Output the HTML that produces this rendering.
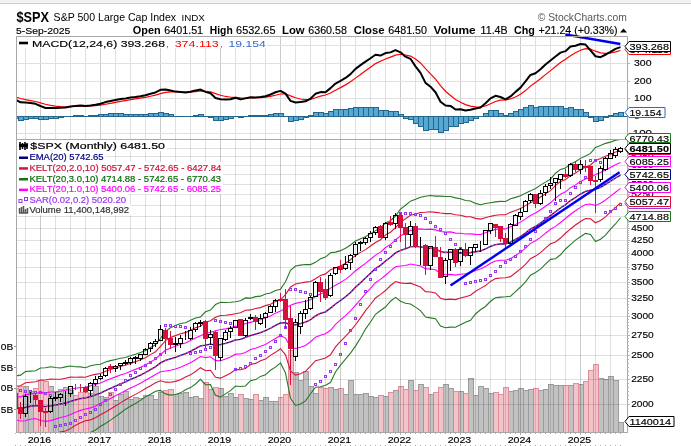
<!DOCTYPE html><html><head><meta charset="utf-8"><style>html,body{margin:0;padding:0;background:#fff;width:691px;height:446px;overflow:hidden}</style></head><body><svg width="691" height="446" viewBox="0 0 691 446" style="display:block;font-family:'Liberation Sans', sans-serif;will-change:transform">
<rect width="691" height="446" fill="#fff"/>
<rect x="0" y="0" width="691" height="2" fill="#eef2f5"/>
<rect x="0" y="2" width="691" height="1" fill="#f4f6f8"/>
<rect x="0" y="3" width="691" height="1" fill="#c0ced8"/>
<text x="16.5" y="21.8" font-size="14.6" font-weight="bold" fill="#000" text-anchor="start" textLength="32.6" lengthAdjust="spacingAndGlyphs">$SPX</text>
<text x="53.6" y="20.8" font-size="11" font-weight="normal" fill="#000" text-anchor="start" textLength="122.5" lengthAdjust="spacingAndGlyphs">S&amp;P 500 Large Cap Index</text>
<text x="181.5" y="20.9" font-size="8.3" font-weight="normal" fill="#000" text-anchor="start" textLength="23.4" lengthAdjust="spacingAndGlyphs">INDX</text>
<text x="537.7" y="20.9" font-size="10.5" font-weight="normal" fill="#555" text-anchor="start" textLength="89.1" lengthAdjust="spacingAndGlyphs">© StockCharts.com</text>
<text x="16.0" y="33.5" font-size="9.3" font-weight="normal" fill="#000" text-anchor="start" textLength="54.3" lengthAdjust="spacingAndGlyphs" stroke="#000" stroke-width="0.15">5-Sep-2025</text>
<text x="132.8" y="33.8" font-size="10.3" font-weight="bold" fill="#000" text-anchor="start" textLength="27.8" lengthAdjust="spacingAndGlyphs">Open</text>
<text x="164.3" y="33.8" font-size="10.2" font-weight="normal" fill="#000" text-anchor="start" textLength="38.8" lengthAdjust="spacingAndGlyphs" stroke="#000" stroke-width="0.15">6401.51</text>
<text x="209.8" y="33.8" font-size="10.3" font-weight="bold" fill="#000" text-anchor="start" textLength="22.9" lengthAdjust="spacingAndGlyphs">High</text>
<text x="236.1" y="33.8" font-size="10.2" font-weight="normal" fill="#000" text-anchor="start" textLength="39.4" lengthAdjust="spacingAndGlyphs" stroke="#000" stroke-width="0.15">6532.65</text>
<text x="282.0" y="33.8" font-size="10.3" font-weight="bold" fill="#000" text-anchor="start" textLength="22.6" lengthAdjust="spacingAndGlyphs">Low</text>
<text x="308.3" y="33.8" font-size="10.2" font-weight="normal" fill="#000" text-anchor="start" textLength="38.6" lengthAdjust="spacingAndGlyphs" stroke="#000" stroke-width="0.15">6360.58</text>
<text x="353.8" y="33.8" font-size="10.3" font-weight="bold" fill="#000" text-anchor="start" textLength="30.8" lengthAdjust="spacingAndGlyphs">Close</text>
<text x="388.2" y="33.8" font-size="10.2" font-weight="normal" fill="#000" text-anchor="start" textLength="38.9" lengthAdjust="spacingAndGlyphs" stroke="#000" stroke-width="0.15">6481.50</text>
<text x="433.5" y="33.8" font-size="10.3" font-weight="bold" fill="#000" text-anchor="start" textLength="42.2" lengthAdjust="spacingAndGlyphs">Volume</text>
<text x="480.6" y="33.8" font-size="10.2" font-weight="normal" fill="#000" text-anchor="start" textLength="27.0" lengthAdjust="spacingAndGlyphs" stroke="#000" stroke-width="0.15">11.4B</text>
<text x="513.9" y="33.8" font-size="10.3" font-weight="bold" fill="#000" text-anchor="start" textLength="20.9" lengthAdjust="spacingAndGlyphs">Chg</text>
<text x="538.5" y="33.8" font-size="10.2" font-weight="normal" fill="#000" text-anchor="start" textLength="79.1" lengthAdjust="spacingAndGlyphs" stroke="#000" stroke-width="0.15">+21.24 (+0.33%)</text>
<path d="M620 32.5 L623.5 28.5 L627 32.5 Z" fill="#000"/>
<line x1="25.5" y1="36.5" x2="25.5" y2="139.5" stroke="#000" stroke-opacity="0.12" stroke-width="1"/><line x1="40.5" y1="36.5" x2="40.5" y2="139.5" stroke="#000" stroke-opacity="0.2" stroke-width="1"/><line x1="55.5" y1="36.5" x2="55.5" y2="139.5" stroke="#000" stroke-opacity="0.12" stroke-width="1"/><line x1="70.5" y1="36.5" x2="70.5" y2="139.5" stroke="#000" stroke-opacity="0.12" stroke-width="1"/><line x1="85.5" y1="36.5" x2="85.5" y2="139.5" stroke="#000" stroke-opacity="0.12" stroke-width="1"/><line x1="100.5" y1="36.5" x2="100.5" y2="139.5" stroke="#000" stroke-opacity="0.2" stroke-width="1"/><line x1="115.5" y1="36.5" x2="115.5" y2="139.5" stroke="#000" stroke-opacity="0.12" stroke-width="1"/><line x1="130.5" y1="36.5" x2="130.5" y2="139.5" stroke="#000" stroke-opacity="0.12" stroke-width="1"/><line x1="145.5" y1="36.5" x2="145.5" y2="139.5" stroke="#000" stroke-opacity="0.12" stroke-width="1"/><line x1="160.5" y1="36.5" x2="160.5" y2="139.5" stroke="#000" stroke-opacity="0.2" stroke-width="1"/><line x1="175.5" y1="36.5" x2="175.5" y2="139.5" stroke="#000" stroke-opacity="0.12" stroke-width="1"/><line x1="190.5" y1="36.5" x2="190.5" y2="139.5" stroke="#000" stroke-opacity="0.12" stroke-width="1"/><line x1="205.5" y1="36.5" x2="205.5" y2="139.5" stroke="#000" stroke-opacity="0.12" stroke-width="1"/><line x1="220.5" y1="36.5" x2="220.5" y2="139.5" stroke="#000" stroke-opacity="0.2" stroke-width="1"/><line x1="235.5" y1="36.5" x2="235.5" y2="139.5" stroke="#000" stroke-opacity="0.12" stroke-width="1"/><line x1="250.5" y1="36.5" x2="250.5" y2="139.5" stroke="#000" stroke-opacity="0.12" stroke-width="1"/><line x1="265.5" y1="36.5" x2="265.5" y2="139.5" stroke="#000" stroke-opacity="0.12" stroke-width="1"/><line x1="280.5" y1="36.5" x2="280.5" y2="139.5" stroke="#000" stroke-opacity="0.2" stroke-width="1"/><line x1="295.5" y1="36.5" x2="295.5" y2="139.5" stroke="#000" stroke-opacity="0.12" stroke-width="1"/><line x1="310.5" y1="36.5" x2="310.5" y2="139.5" stroke="#000" stroke-opacity="0.12" stroke-width="1"/><line x1="325.5" y1="36.5" x2="325.5" y2="139.5" stroke="#000" stroke-opacity="0.12" stroke-width="1"/><line x1="340.5" y1="36.5" x2="340.5" y2="139.5" stroke="#000" stroke-opacity="0.2" stroke-width="1"/><line x1="355.5" y1="36.5" x2="355.5" y2="139.5" stroke="#000" stroke-opacity="0.12" stroke-width="1"/><line x1="370.5" y1="36.5" x2="370.5" y2="139.5" stroke="#000" stroke-opacity="0.12" stroke-width="1"/><line x1="385.5" y1="36.5" x2="385.5" y2="139.5" stroke="#000" stroke-opacity="0.12" stroke-width="1"/><line x1="400.5" y1="36.5" x2="400.5" y2="139.5" stroke="#000" stroke-opacity="0.2" stroke-width="1"/><line x1="415.5" y1="36.5" x2="415.5" y2="139.5" stroke="#000" stroke-opacity="0.12" stroke-width="1"/><line x1="430.5" y1="36.5" x2="430.5" y2="139.5" stroke="#000" stroke-opacity="0.12" stroke-width="1"/><line x1="445.5" y1="36.5" x2="445.5" y2="139.5" stroke="#000" stroke-opacity="0.12" stroke-width="1"/><line x1="460.5" y1="36.5" x2="460.5" y2="139.5" stroke="#000" stroke-opacity="0.2" stroke-width="1"/><line x1="475.5" y1="36.5" x2="475.5" y2="139.5" stroke="#000" stroke-opacity="0.12" stroke-width="1"/><line x1="490.5" y1="36.5" x2="490.5" y2="139.5" stroke="#000" stroke-opacity="0.12" stroke-width="1"/><line x1="505.5" y1="36.5" x2="505.5" y2="139.5" stroke="#000" stroke-opacity="0.12" stroke-width="1"/><line x1="520.5" y1="36.5" x2="520.5" y2="139.5" stroke="#000" stroke-opacity="0.2" stroke-width="1"/><line x1="535.5" y1="36.5" x2="535.5" y2="139.5" stroke="#000" stroke-opacity="0.12" stroke-width="1"/><line x1="550.5" y1="36.5" x2="550.5" y2="139.5" stroke="#000" stroke-opacity="0.12" stroke-width="1"/><line x1="565.5" y1="36.5" x2="565.5" y2="139.5" stroke="#000" stroke-opacity="0.12" stroke-width="1"/><line x1="580.5" y1="36.5" x2="580.5" y2="139.5" stroke="#000" stroke-opacity="0.2" stroke-width="1"/><line x1="595.5" y1="36.5" x2="595.5" y2="139.5" stroke="#000" stroke-opacity="0.12" stroke-width="1"/><line x1="610.5" y1="36.5" x2="610.5" y2="139.5" stroke="#000" stroke-opacity="0.12" stroke-width="1"/>
<line x1="16.5" y1="133.5" x2="627.5" y2="133.5" stroke="#e0e0e0" stroke-width="1"/>
<line x1="16.5" y1="116.5" x2="627.5" y2="116.5" stroke="#e0e0e0" stroke-width="1"/>
<line x1="16.5" y1="98.5" x2="627.5" y2="98.5" stroke="#e0e0e0" stroke-width="1"/>
<line x1="16.5" y1="81.5" x2="627.5" y2="81.5" stroke="#e0e0e0" stroke-width="1"/>
<line x1="16.5" y1="63.5" x2="627.5" y2="63.5" stroke="#e0e0e0" stroke-width="1"/>
<line x1="16.5" y1="45.5" x2="627.5" y2="45.5" stroke="#e0e0e0" stroke-width="1"/>
<clipPath id="cm"><rect x="16.5" y="36.5" width="611.0" height="103.0"/></clipPath>
<clipPath id="cp"><rect x="16.5" y="139.5" width="611.0" height="293.0"/></clipPath>
<g clip-path="url(#cm)" fill="#58a8d4" stroke="#23678c" stroke-width="1"><rect x="618.5" y="112.5" width="5" height="4.0"/><rect x="613.5" y="113.5" width="5" height="3.0"/><rect x="608.5" y="115.5" width="5" height="1.0"/><rect x="603.5" y="116.5" width="5" height="1.0"/><rect x="598.5" y="116.5" width="5" height="4.0"/><rect x="593.5" y="116.5" width="5" height="5.0"/><rect x="588.5" y="116.5" width="5" height="1.0"/><rect x="583.5" y="112.5" width="5" height="4.0"/><rect x="578.5" y="109.5" width="5" height="7.0"/><rect x="573.5" y="109.5" width="5" height="7.0"/><rect x="568.5" y="107.5" width="5" height="9.0"/><rect x="563.5" y="108.5" width="5" height="8.0"/><rect x="558.5" y="106.5" width="5" height="10.0"/><rect x="553.5" y="106.5" width="5" height="10.0"/><rect x="548.5" y="106.5" width="5" height="10.0"/><rect x="543.5" y="106.5" width="5" height="10.0"/><rect x="538.5" y="106.5" width="5" height="10.0"/><rect x="533.5" y="107.5" width="5" height="9.0"/><rect x="528.5" y="105.5" width="5" height="11.0"/><rect x="523.5" y="107.5" width="5" height="9.0"/><rect x="518.5" y="109.5" width="5" height="7.0"/><rect x="513.5" y="111.5" width="5" height="5.0"/><rect x="508.5" y="113.5" width="5" height="3.0"/><rect x="503.5" y="115.5" width="5" height="1.0"/><rect x="498.5" y="113.5" width="5" height="3.0"/><rect x="493.5" y="110.5" width="5" height="6.0"/><rect x="488.5" y="110.5" width="5" height="6.0"/><rect x="483.5" y="113.5" width="5" height="3.0"/><rect x="478.5" y="116.5" width="5" height="0.0"/><rect x="473.5" y="116.5" width="5" height="2.0"/><rect x="468.5" y="116.5" width="5" height="4.0"/><rect x="463.5" y="116.5" width="5" height="6.0"/><rect x="458.5" y="116.5" width="5" height="7.0"/><rect x="453.5" y="116.5" width="5" height="10.0"/><rect x="448.5" y="116.5" width="5" height="10.0"/><rect x="443.5" y="116.5" width="5" height="14.0"/><rect x="438.5" y="116.5" width="5" height="16.0"/><rect x="433.5" y="116.5" width="5" height="13.0"/><rect x="428.5" y="116.5" width="5" height="13.0"/><rect x="423.5" y="116.5" width="5" height="14.0"/><rect x="418.5" y="116.5" width="5" height="10.0"/><rect x="413.5" y="116.5" width="5" height="7.0"/><rect x="408.5" y="116.5" width="5" height="3.0"/><rect x="403.5" y="116.5" width="5" height="2.0"/><rect x="398.5" y="114.5" width="5" height="2.0"/><rect x="393.5" y="111.5" width="5" height="5.0"/><rect x="388.5" y="111.5" width="5" height="5.0"/><rect x="383.5" y="110.5" width="5" height="6.0"/><rect x="378.5" y="110.5" width="5" height="6.0"/><rect x="373.5" y="107.5" width="5" height="9.0"/><rect x="368.5" y="107.5" width="5" height="9.0"/><rect x="363.5" y="107.5" width="5" height="9.0"/><rect x="358.5" y="107.5" width="5" height="9.0"/><rect x="353.5" y="107.5" width="5" height="9.0"/><rect x="348.5" y="108.5" width="5" height="8.0"/><rect x="343.5" y="109.5" width="5" height="7.0"/><rect x="338.5" y="109.5" width="5" height="7.0"/><rect x="333.5" y="109.5" width="5" height="7.0"/><rect x="328.5" y="111.5" width="5" height="5.0"/><rect x="323.5" y="113.5" width="5" height="3.0"/><rect x="318.5" y="112.5" width="5" height="4.0"/><rect x="313.5" y="112.5" width="5" height="4.0"/><rect x="308.5" y="115.5" width="5" height="1.0"/><rect x="303.5" y="116.5" width="5" height="1.0"/><rect x="298.5" y="116.5" width="5" height="3.0"/><rect x="293.5" y="116.5" width="5" height="4.0"/><rect x="288.5" y="116.5" width="5" height="5.0"/><rect x="283.5" y="116.5" width="5" height="0.0"/><rect x="278.5" y="113.5" width="5" height="3.0"/><rect x="273.5" y="113.5" width="5" height="3.0"/><rect x="268.5" y="114.5" width="5" height="2.0"/><rect x="263.5" y="115.5" width="5" height="1.0"/><rect x="258.5" y="115.5" width="5" height="1.0"/><rect x="253.5" y="115.5" width="5" height="1.0"/><rect x="248.5" y="115.5" width="5" height="1.0"/><rect x="243.5" y="116.5" width="5" height="0.0"/><rect x="238.5" y="116.5" width="5" height="1.0"/><rect x="233.5" y="116.5" width="5" height="0.0"/><rect x="228.5" y="116.5" width="5" height="2.0"/><rect x="223.5" y="116.5" width="5" height="3.0"/><rect x="218.5" y="116.5" width="5" height="4.0"/><rect x="213.5" y="116.5" width="5" height="4.0"/><rect x="208.5" y="116.5" width="5" height="1.0"/><rect x="203.5" y="116.5" width="5" height="0.0"/><rect x="198.5" y="114.5" width="5" height="2.0"/><rect x="193.5" y="115.5" width="5" height="1.0"/><rect x="188.5" y="116.5" width="5" height="0.0"/><rect x="183.5" y="116.5" width="5" height="0.0"/><rect x="178.5" y="116.5" width="5" height="0.0"/><rect x="173.5" y="116.5" width="5" height="0.0"/><rect x="168.5" y="114.5" width="5" height="2.0"/><rect x="163.5" y="113.5" width="5" height="3.0"/><rect x="158.5" y="112.5" width="5" height="4.0"/><rect x="153.5" y="113.5" width="5" height="3.0"/><rect x="148.5" y="113.5" width="5" height="3.0"/><rect x="143.5" y="114.5" width="5" height="2.0"/><rect x="138.5" y="114.5" width="5" height="2.0"/><rect x="133.5" y="114.5" width="5" height="2.0"/><rect x="128.5" y="114.5" width="5" height="2.0"/><rect x="123.5" y="114.5" width="5" height="2.0"/><rect x="118.5" y="113.5" width="5" height="3.0"/><rect x="113.5" y="113.5" width="5" height="3.0"/><rect x="108.5" y="113.5" width="5" height="3.0"/><rect x="103.5" y="114.5" width="5" height="2.0"/><rect x="98.5" y="114.5" width="5" height="2.0"/><rect x="93.5" y="115.5" width="5" height="1.0"/><rect x="88.5" y="115.5" width="5" height="1.0"/><rect x="83.5" y="116.5" width="5" height="0.0"/><rect x="78.5" y="115.5" width="5" height="1.0"/><rect x="73.5" y="115.5" width="5" height="1.0"/><rect x="68.5" y="116.5" width="5" height="0.0"/><rect x="63.5" y="116.5" width="5" height="0.0"/><rect x="58.5" y="116.5" width="5" height="1.0"/><rect x="53.5" y="116.5" width="5" height="2.0"/><rect x="48.5" y="116.5" width="5" height="2.0"/><rect x="43.5" y="116.5" width="5" height="3.0"/><rect x="38.5" y="116.5" width="5" height="3.0"/><rect x="33.5" y="116.5" width="5" height="2.0"/><rect x="28.5" y="116.5" width="5" height="2.0"/><rect x="23.5" y="116.5" width="5" height="3.0"/><rect x="18.5" y="116.5" width="5" height="4.0"/><rect x="13.5" y="116.5" width="5" height="2.0"/></g>
<line x1="16.5" y1="116.5" x2="627.5" y2="116.5" stroke="#23678c" stroke-width="1" clip-path="url(#cm)"/>
<polyline clip-path="url(#cm)" points="10.5,95.88 15.5,96.95 20.5,98.50 25.5,99.67 30.5,100.60 35.5,101.53 40.5,102.82 45.5,104.29 50.5,105.34 55.5,106.08 60.5,106.53 65.5,106.80 70.5,106.71 75.5,106.47 80.5,106.21 85.5,106.15 90.5,105.97 95.5,105.62 100.5,105.10 105.5,104.24 110.5,103.30 115.5,102.35 120.5,101.40 125.5,100.55 130.5,99.68 135.5,98.92 140.5,98.16 145.5,97.31 150.5,96.27 155.5,95.17 160.5,93.64 165.5,92.46 170.5,91.92 175.5,91.84 180.5,91.88 185.5,92.03 190.5,91.96 195.5,91.53 200.5,90.97 205.5,91.23 210.5,91.82 215.5,93.59 220.5,95.23 225.5,96.46 230.5,97.26 235.5,97.40 240.5,97.97 245.5,98.09 250.5,97.86 255.5,97.73 260.5,97.55 265.5,97.18 270.5,96.42 275.5,95.23 280.5,93.99 285.5,93.89 290.5,95.89 295.5,97.76 300.5,99.00 305.5,99.66 310.5,99.36 315.5,97.77 320.5,96.15 325.5,95.04 330.5,93.07 335.5,90.34 340.5,87.63 345.5,84.87 350.5,81.80 355.5,78.11 360.5,74.40 365.5,70.75 370.5,67.19 375.5,63.63 380.5,61.32 385.5,58.96 390.5,57.07 395.5,55.07 400.5,54.28 405.5,54.97 410.5,56.07 415.5,59.01 420.5,62.96 425.5,68.66 430.5,73.82 435.5,79.09 440.5,85.56 445.5,91.27 450.5,95.45 455.5,99.46 460.5,102.26 465.5,104.63 470.5,106.12 475.5,106.81 480.5,107.02 485.5,105.96 490.5,103.80 495.5,101.53 500.5,100.22 505.5,99.96 510.5,98.96 515.5,96.94 520.5,94.28 525.5,90.60 530.5,86.12 535.5,82.45 540.5,78.70 545.5,74.64 550.5,70.61 555.5,66.58 560.5,62.60 565.5,59.32 570.5,55.67 575.5,52.84 580.5,50.30 585.5,48.66 590.5,49.16 595.5,51.19 600.5,52.89 605.5,53.42 610.5,52.98 615.5,51.80 620.5,50.46" fill="none" stroke="#ff0000" stroke-width="1.2"/>
<polyline clip-path="url(#cm)" points="10.5,97.24 15.5,99.63 20.5,102.37 25.5,102.60 30.5,102.94 35.5,103.84 40.5,106.04 45.5,107.99 50.5,107.94 55.5,107.94 60.5,107.63 65.5,107.47 70.5,106.49 75.5,105.88 80.5,105.56 85.5,106.00 90.5,105.52 95.5,104.76 100.5,103.79 105.5,102.08 110.5,100.95 115.5,99.97 120.5,99.05 125.5,98.40 130.5,97.50 135.5,97.02 140.5,96.26 145.5,95.18 150.5,93.67 155.5,92.43 160.5,89.81 165.5,89.52 170.5,90.58 175.5,91.62 180.5,92.00 185.5,92.41 190.5,91.76 195.5,90.45 200.5,89.58 205.5,91.87 210.5,93.31 215.5,98.02 220.5,99.34 225.5,99.53 230.5,99.24 235.5,97.78 240.5,99.38 245.5,98.37 250.5,97.31 255.5,97.41 260.5,97.07 265.5,96.26 270.5,94.52 275.5,92.27 280.5,90.89 285.5,93.65 290.5,100.88 295.5,102.43 300.5,102.10 305.5,101.29 310.5,98.63 315.5,93.79 320.5,92.09 325.5,92.27 330.5,88.13 335.5,83.52 340.5,80.87 345.5,77.98 350.5,74.11 355.5,68.90 360.5,65.13 365.5,61.62 370.5,58.28 375.5,54.74 380.5,55.54 385.5,53.04 390.5,52.37 395.5,50.05 400.5,52.31 405.5,56.70 410.5,58.82 415.5,66.36 420.5,72.84 425.5,82.92 430.5,86.70 435.5,92.28 440.5,101.73 445.5,105.53 450.5,105.93 455.5,109.49 460.5,109.26 465.5,110.56 470.5,109.82 475.5,108.55 480.5,107.53 485.5,103.32 490.5,98.40 495.5,95.85 500.5,96.97 505.5,99.30 510.5,96.47 515.5,91.88 520.5,87.62 525.5,81.40 530.5,74.94 535.5,73.26 540.5,69.33 545.5,64.48 550.5,60.54 555.5,56.51 560.5,52.64 565.5,51.14 570.5,46.53 575.5,45.76 580.5,43.96 585.5,44.57 590.5,50.38 595.5,56.27 600.5,57.14 605.5,54.74 610.5,51.88 615.5,48.87 620.5,47.08" fill="none" stroke="#000" stroke-width="2.0" stroke-linejoin="round"/>
<g clip-path="url(#cp)"><rect x="618.5" y="422.5" width="5" height="10.0" fill="#c2c2c2" stroke="#9c9c9c" stroke-width="1"/><rect x="613.5" y="380.5" width="5" height="52.0" fill="#c2c2c2" stroke="#9c9c9c" stroke-width="1"/><rect x="608.5" y="376.5" width="5" height="56.0" fill="#c2c2c2" stroke="#9c9c9c" stroke-width="1"/><rect x="603.5" y="379.5" width="5" height="53.0" fill="#c2c2c2" stroke="#9c9c9c" stroke-width="1"/><rect x="598.5" y="378.5" width="5" height="54.0" fill="#c2c2c2" stroke="#9c9c9c" stroke-width="1"/><rect x="593.5" y="364.5" width="5" height="68.0" fill="#f2c4ca" stroke="#dd8f9a" stroke-width="1"/><rect x="588.5" y="370.5" width="5" height="62.0" fill="#f2c4ca" stroke="#dd8f9a" stroke-width="1"/><rect x="583.5" y="381.5" width="5" height="51.0" fill="#f2c4ca" stroke="#dd8f9a" stroke-width="1"/><rect x="578.5" y="384.5" width="5" height="48.0" fill="#c2c2c2" stroke="#9c9c9c" stroke-width="1"/><rect x="573.5" y="383.5" width="5" height="49.0" fill="#f2c4ca" stroke="#dd8f9a" stroke-width="1"/><rect x="568.5" y="385.5" width="5" height="47.0" fill="#c2c2c2" stroke="#9c9c9c" stroke-width="1"/><rect x="563.5" y="385.5" width="5" height="47.0" fill="#f2c4ca" stroke="#dd8f9a" stroke-width="1"/><rect x="558.5" y="385.5" width="5" height="47.0" fill="#c2c2c2" stroke="#9c9c9c" stroke-width="1"/><rect x="553.5" y="385.5" width="5" height="47.0" fill="#c2c2c2" stroke="#9c9c9c" stroke-width="1"/><rect x="548.5" y="384.5" width="5" height="48.0" fill="#c2c2c2" stroke="#9c9c9c" stroke-width="1"/><rect x="543.5" y="389.5" width="5" height="43.0" fill="#c2c2c2" stroke="#9c9c9c" stroke-width="1"/><rect x="538.5" y="390.5" width="5" height="42.0" fill="#c2c2c2" stroke="#9c9c9c" stroke-width="1"/><rect x="533.5" y="388.5" width="5" height="44.0" fill="#f2c4ca" stroke="#dd8f9a" stroke-width="1"/><rect x="528.5" y="389.5" width="5" height="43.0" fill="#c2c2c2" stroke="#9c9c9c" stroke-width="1"/><rect x="523.5" y="390.5" width="5" height="42.0" fill="#c2c2c2" stroke="#9c9c9c" stroke-width="1"/><rect x="518.5" y="388.5" width="5" height="44.0" fill="#c2c2c2" stroke="#9c9c9c" stroke-width="1"/><rect x="513.5" y="390.5" width="5" height="42.0" fill="#c2c2c2" stroke="#9c9c9c" stroke-width="1"/><rect x="508.5" y="391.5" width="5" height="41.0" fill="#c2c2c2" stroke="#9c9c9c" stroke-width="1"/><rect x="503.5" y="387.5" width="5" height="45.0" fill="#f2c4ca" stroke="#dd8f9a" stroke-width="1"/><rect x="498.5" y="394.5" width="5" height="38.0" fill="#f2c4ca" stroke="#dd8f9a" stroke-width="1"/><rect x="493.5" y="392.5" width="5" height="40.0" fill="#f2c4ca" stroke="#dd8f9a" stroke-width="1"/><rect x="488.5" y="393.5" width="5" height="39.0" fill="#c2c2c2" stroke="#9c9c9c" stroke-width="1"/><rect x="483.5" y="388.5" width="5" height="44.0" fill="#c2c2c2" stroke="#9c9c9c" stroke-width="1"/><rect x="478.5" y="386.5" width="5" height="46.0" fill="#c2c2c2" stroke="#9c9c9c" stroke-width="1"/><rect x="473.5" y="395.5" width="5" height="37.0" fill="#c2c2c2" stroke="#9c9c9c" stroke-width="1"/><rect x="468.5" y="378.5" width="5" height="54.0" fill="#c2c2c2" stroke="#9c9c9c" stroke-width="1"/><rect x="463.5" y="393.5" width="5" height="39.0" fill="#f2c4ca" stroke="#dd8f9a" stroke-width="1"/><rect x="458.5" y="391.5" width="5" height="41.0" fill="#c2c2c2" stroke="#9c9c9c" stroke-width="1"/><rect x="453.5" y="391.5" width="5" height="41.0" fill="#f2c4ca" stroke="#dd8f9a" stroke-width="1"/><rect x="448.5" y="388.5" width="5" height="44.0" fill="#c2c2c2" stroke="#9c9c9c" stroke-width="1"/><rect x="443.5" y="384.5" width="5" height="48.0" fill="#c2c2c2" stroke="#9c9c9c" stroke-width="1"/><rect x="438.5" y="387.5" width="5" height="45.0" fill="#f2c4ca" stroke="#dd8f9a" stroke-width="1"/><rect x="433.5" y="392.5" width="5" height="40.0" fill="#f2c4ca" stroke="#dd8f9a" stroke-width="1"/><rect x="428.5" y="394.5" width="5" height="38.0" fill="#c2c2c2" stroke="#9c9c9c" stroke-width="1"/><rect x="423.5" y="387.5" width="5" height="45.0" fill="#f2c4ca" stroke="#dd8f9a" stroke-width="1"/><rect x="418.5" y="384.5" width="5" height="48.0" fill="#c2c2c2" stroke="#9c9c9c" stroke-width="1"/><rect x="413.5" y="390.5" width="5" height="42.0" fill="#f2c4ca" stroke="#dd8f9a" stroke-width="1"/><rect x="408.5" y="380.5" width="5" height="52.0" fill="#c2c2c2" stroke="#9c9c9c" stroke-width="1"/><rect x="403.5" y="389.5" width="5" height="43.0" fill="#f2c4ca" stroke="#dd8f9a" stroke-width="1"/><rect x="398.5" y="386.5" width="5" height="46.0" fill="#f2c4ca" stroke="#dd8f9a" stroke-width="1"/><rect x="393.5" y="390.5" width="5" height="42.0" fill="#c2c2c2" stroke="#9c9c9c" stroke-width="1"/><rect x="388.5" y="392.5" width="5" height="40.0" fill="#f2c4ca" stroke="#dd8f9a" stroke-width="1"/><rect x="383.5" y="396.5" width="5" height="36.0" fill="#c2c2c2" stroke="#9c9c9c" stroke-width="1"/><rect x="378.5" y="395.5" width="5" height="37.0" fill="#f2c4ca" stroke="#dd8f9a" stroke-width="1"/><rect x="373.5" y="397.5" width="5" height="35.0" fill="#c2c2c2" stroke="#9c9c9c" stroke-width="1"/><rect x="368.5" y="396.5" width="5" height="36.0" fill="#c2c2c2" stroke="#9c9c9c" stroke-width="1"/><rect x="363.5" y="393.5" width="5" height="39.0" fill="#c2c2c2" stroke="#9c9c9c" stroke-width="1"/><rect x="358.5" y="394.5" width="5" height="38.0" fill="#c2c2c2" stroke="#9c9c9c" stroke-width="1"/><rect x="353.5" y="394.5" width="5" height="38.0" fill="#c2c2c2" stroke="#9c9c9c" stroke-width="1"/><rect x="348.5" y="380.5" width="5" height="52.0" fill="#c2c2c2" stroke="#9c9c9c" stroke-width="1"/><rect x="343.5" y="394.5" width="5" height="38.0" fill="#c2c2c2" stroke="#9c9c9c" stroke-width="1"/><rect x="338.5" y="388.5" width="5" height="44.0" fill="#f2c4ca" stroke="#dd8f9a" stroke-width="1"/><rect x="333.5" y="389.5" width="5" height="43.0" fill="#c2c2c2" stroke="#9c9c9c" stroke-width="1"/><rect x="328.5" y="387.5" width="5" height="45.0" fill="#c2c2c2" stroke="#9c9c9c" stroke-width="1"/><rect x="323.5" y="388.5" width="5" height="44.0" fill="#f2c4ca" stroke="#dd8f9a" stroke-width="1"/><rect x="318.5" y="387.5" width="5" height="45.0" fill="#f2c4ca" stroke="#dd8f9a" stroke-width="1"/><rect x="313.5" y="393.5" width="5" height="39.0" fill="#c2c2c2" stroke="#9c9c9c" stroke-width="1"/><rect x="308.5" y="386.5" width="5" height="46.0" fill="#c2c2c2" stroke="#9c9c9c" stroke-width="1"/><rect x="303.5" y="371.5" width="5" height="61.0" fill="#c2c2c2" stroke="#9c9c9c" stroke-width="1"/><rect x="298.5" y="380.5" width="5" height="52.0" fill="#c2c2c2" stroke="#9c9c9c" stroke-width="1"/><rect x="293.5" y="372.5" width="5" height="60.0" fill="#c2c2c2" stroke="#9c9c9c" stroke-width="1"/><rect x="288.5" y="350.5" width="5" height="82.0" fill="#f2c4ca" stroke="#dd8f9a" stroke-width="1"/><rect x="283.5" y="394.5" width="5" height="38.0" fill="#f2c4ca" stroke="#dd8f9a" stroke-width="1"/><rect x="278.5" y="397.5" width="5" height="35.0" fill="#f2c4ca" stroke="#dd8f9a" stroke-width="1"/><rect x="273.5" y="401.5" width="5" height="31.0" fill="#c2c2c2" stroke="#9c9c9c" stroke-width="1"/><rect x="268.5" y="401.5" width="5" height="31.0" fill="#c2c2c2" stroke="#9c9c9c" stroke-width="1"/><rect x="263.5" y="397.5" width="5" height="35.0" fill="#c2c2c2" stroke="#9c9c9c" stroke-width="1"/><rect x="258.5" y="400.5" width="5" height="32.0" fill="#c2c2c2" stroke="#9c9c9c" stroke-width="1"/><rect x="253.5" y="394.5" width="5" height="38.0" fill="#f2c4ca" stroke="#dd8f9a" stroke-width="1"/><rect x="248.5" y="399.5" width="5" height="33.0" fill="#c2c2c2" stroke="#9c9c9c" stroke-width="1"/><rect x="243.5" y="398.5" width="5" height="34.0" fill="#c2c2c2" stroke="#9c9c9c" stroke-width="1"/><rect x="238.5" y="394.5" width="5" height="38.0" fill="#f2c4ca" stroke="#dd8f9a" stroke-width="1"/><rect x="233.5" y="397.5" width="5" height="35.0" fill="#c2c2c2" stroke="#9c9c9c" stroke-width="1"/><rect x="228.5" y="393.5" width="5" height="39.0" fill="#c2c2c2" stroke="#9c9c9c" stroke-width="1"/><rect x="223.5" y="396.5" width="5" height="36.0" fill="#c2c2c2" stroke="#9c9c9c" stroke-width="1"/><rect x="218.5" y="388.5" width="5" height="44.0" fill="#c2c2c2" stroke="#9c9c9c" stroke-width="1"/><rect x="213.5" y="387.5" width="5" height="45.0" fill="#f2c4ca" stroke="#dd8f9a" stroke-width="1"/><rect x="208.5" y="389.5" width="5" height="43.0" fill="#c2c2c2" stroke="#9c9c9c" stroke-width="1"/><rect x="203.5" y="382.5" width="5" height="50.0" fill="#f2c4ca" stroke="#dd8f9a" stroke-width="1"/><rect x="198.5" y="398.5" width="5" height="34.0" fill="#c2c2c2" stroke="#9c9c9c" stroke-width="1"/><rect x="193.5" y="396.5" width="5" height="36.0" fill="#c2c2c2" stroke="#9c9c9c" stroke-width="1"/><rect x="188.5" y="397.5" width="5" height="35.0" fill="#c2c2c2" stroke="#9c9c9c" stroke-width="1"/><rect x="183.5" y="392.5" width="5" height="40.0" fill="#c2c2c2" stroke="#9c9c9c" stroke-width="1"/><rect x="178.5" y="393.5" width="5" height="39.0" fill="#c2c2c2" stroke="#9c9c9c" stroke-width="1"/><rect x="173.5" y="394.5" width="5" height="38.0" fill="#c2c2c2" stroke="#9c9c9c" stroke-width="1"/><rect x="168.5" y="389.5" width="5" height="43.0" fill="#f2c4ca" stroke="#dd8f9a" stroke-width="1"/><rect x="163.5" y="390.5" width="5" height="42.0" fill="#f2c4ca" stroke="#dd8f9a" stroke-width="1"/><rect x="158.5" y="392.5" width="5" height="40.0" fill="#c2c2c2" stroke="#9c9c9c" stroke-width="1"/><rect x="153.5" y="399.5" width="5" height="33.0" fill="#c2c2c2" stroke="#9c9c9c" stroke-width="1"/><rect x="148.5" y="395.5" width="5" height="37.0" fill="#c2c2c2" stroke="#9c9c9c" stroke-width="1"/><rect x="143.5" y="395.5" width="5" height="37.0" fill="#c2c2c2" stroke="#9c9c9c" stroke-width="1"/><rect x="138.5" y="398.5" width="5" height="34.0" fill="#c2c2c2" stroke="#9c9c9c" stroke-width="1"/><rect x="133.5" y="397.5" width="5" height="35.0" fill="#c2c2c2" stroke="#9c9c9c" stroke-width="1"/><rect x="128.5" y="399.5" width="5" height="33.0" fill="#c2c2c2" stroke="#9c9c9c" stroke-width="1"/><rect x="123.5" y="391.5" width="5" height="41.0" fill="#c2c2c2" stroke="#9c9c9c" stroke-width="1"/><rect x="118.5" y="394.5" width="5" height="38.0" fill="#c2c2c2" stroke="#9c9c9c" stroke-width="1"/><rect x="113.5" y="400.5" width="5" height="32.0" fill="#c2c2c2" stroke="#9c9c9c" stroke-width="1"/><rect x="108.5" y="392.5" width="5" height="40.0" fill="#f2c4ca" stroke="#dd8f9a" stroke-width="1"/><rect x="103.5" y="397.5" width="5" height="35.0" fill="#c2c2c2" stroke="#9c9c9c" stroke-width="1"/><rect x="98.5" y="396.5" width="5" height="36.0" fill="#c2c2c2" stroke="#9c9c9c" stroke-width="1"/><rect x="93.5" y="386.5" width="5" height="46.0" fill="#c2c2c2" stroke="#9c9c9c" stroke-width="1"/><rect x="88.5" y="393.5" width="5" height="39.0" fill="#c2c2c2" stroke="#9c9c9c" stroke-width="1"/><rect x="83.5" y="392.5" width="5" height="40.0" fill="#f2c4ca" stroke="#dd8f9a" stroke-width="1"/><rect x="78.5" y="392.5" width="5" height="40.0" fill="#f2c4ca" stroke="#dd8f9a" stroke-width="1"/><rect x="73.5" y="395.5" width="5" height="37.0" fill="#f2c4ca" stroke="#dd8f9a" stroke-width="1"/><rect x="68.5" y="390.5" width="5" height="42.0" fill="#c2c2c2" stroke="#9c9c9c" stroke-width="1"/><rect x="63.5" y="387.5" width="5" height="45.0" fill="#c2c2c2" stroke="#9c9c9c" stroke-width="1"/><rect x="58.5" y="389.5" width="5" height="43.0" fill="#c2c2c2" stroke="#9c9c9c" stroke-width="1"/><rect x="53.5" y="392.5" width="5" height="40.0" fill="#c2c2c2" stroke="#9c9c9c" stroke-width="1"/><rect x="48.5" y="386.5" width="5" height="46.0" fill="#c2c2c2" stroke="#9c9c9c" stroke-width="1"/><rect x="43.5" y="381.5" width="5" height="51.0" fill="#f2c4ca" stroke="#dd8f9a" stroke-width="1"/><rect x="38.5" y="380.5" width="5" height="52.0" fill="#f2c4ca" stroke="#dd8f9a" stroke-width="1"/><rect x="33.5" y="388.5" width="5" height="44.0" fill="#f2c4ca" stroke="#dd8f9a" stroke-width="1"/><rect x="28.5" y="391.5" width="5" height="41.0" fill="#c2c2c2" stroke="#9c9c9c" stroke-width="1"/><rect x="23.5" y="386.5" width="5" height="46.0" fill="#c2c2c2" stroke="#9c9c9c" stroke-width="1"/><rect x="18.5" y="386.5" width="5" height="46.0" fill="#f2c4ca" stroke="#dd8f9a" stroke-width="1"/><rect x="13.5" y="388.5" width="5" height="44.0" fill="#f2c4ca" stroke="#dd8f9a" stroke-width="1"/></g>
<line x1="25.5" y1="139.5" x2="25.5" y2="432.5" stroke="#000" stroke-opacity="0.12" stroke-width="1"/><line x1="40.5" y1="139.5" x2="40.5" y2="432.5" stroke="#000" stroke-opacity="0.2" stroke-width="1"/><line x1="55.5" y1="139.5" x2="55.5" y2="432.5" stroke="#000" stroke-opacity="0.12" stroke-width="1"/><line x1="70.5" y1="139.5" x2="70.5" y2="432.5" stroke="#000" stroke-opacity="0.12" stroke-width="1"/><line x1="85.5" y1="139.5" x2="85.5" y2="432.5" stroke="#000" stroke-opacity="0.12" stroke-width="1"/><line x1="100.5" y1="139.5" x2="100.5" y2="432.5" stroke="#000" stroke-opacity="0.2" stroke-width="1"/><line x1="115.5" y1="139.5" x2="115.5" y2="432.5" stroke="#000" stroke-opacity="0.12" stroke-width="1"/><line x1="130.5" y1="139.5" x2="130.5" y2="432.5" stroke="#000" stroke-opacity="0.12" stroke-width="1"/><line x1="145.5" y1="139.5" x2="145.5" y2="432.5" stroke="#000" stroke-opacity="0.12" stroke-width="1"/><line x1="160.5" y1="139.5" x2="160.5" y2="432.5" stroke="#000" stroke-opacity="0.2" stroke-width="1"/><line x1="175.5" y1="139.5" x2="175.5" y2="432.5" stroke="#000" stroke-opacity="0.12" stroke-width="1"/><line x1="190.5" y1="139.5" x2="190.5" y2="432.5" stroke="#000" stroke-opacity="0.12" stroke-width="1"/><line x1="205.5" y1="139.5" x2="205.5" y2="432.5" stroke="#000" stroke-opacity="0.12" stroke-width="1"/><line x1="220.5" y1="139.5" x2="220.5" y2="432.5" stroke="#000" stroke-opacity="0.2" stroke-width="1"/><line x1="235.5" y1="139.5" x2="235.5" y2="432.5" stroke="#000" stroke-opacity="0.12" stroke-width="1"/><line x1="250.5" y1="139.5" x2="250.5" y2="432.5" stroke="#000" stroke-opacity="0.12" stroke-width="1"/><line x1="265.5" y1="139.5" x2="265.5" y2="432.5" stroke="#000" stroke-opacity="0.12" stroke-width="1"/><line x1="280.5" y1="139.5" x2="280.5" y2="432.5" stroke="#000" stroke-opacity="0.2" stroke-width="1"/><line x1="295.5" y1="139.5" x2="295.5" y2="432.5" stroke="#000" stroke-opacity="0.12" stroke-width="1"/><line x1="310.5" y1="139.5" x2="310.5" y2="432.5" stroke="#000" stroke-opacity="0.12" stroke-width="1"/><line x1="325.5" y1="139.5" x2="325.5" y2="432.5" stroke="#000" stroke-opacity="0.12" stroke-width="1"/><line x1="340.5" y1="139.5" x2="340.5" y2="432.5" stroke="#000" stroke-opacity="0.2" stroke-width="1"/><line x1="355.5" y1="139.5" x2="355.5" y2="432.5" stroke="#000" stroke-opacity="0.12" stroke-width="1"/><line x1="370.5" y1="139.5" x2="370.5" y2="432.5" stroke="#000" stroke-opacity="0.12" stroke-width="1"/><line x1="385.5" y1="139.5" x2="385.5" y2="432.5" stroke="#000" stroke-opacity="0.12" stroke-width="1"/><line x1="400.5" y1="139.5" x2="400.5" y2="432.5" stroke="#000" stroke-opacity="0.2" stroke-width="1"/><line x1="415.5" y1="139.5" x2="415.5" y2="432.5" stroke="#000" stroke-opacity="0.12" stroke-width="1"/><line x1="430.5" y1="139.5" x2="430.5" y2="432.5" stroke="#000" stroke-opacity="0.12" stroke-width="1"/><line x1="445.5" y1="139.5" x2="445.5" y2="432.5" stroke="#000" stroke-opacity="0.12" stroke-width="1"/><line x1="460.5" y1="139.5" x2="460.5" y2="432.5" stroke="#000" stroke-opacity="0.2" stroke-width="1"/><line x1="475.5" y1="139.5" x2="475.5" y2="432.5" stroke="#000" stroke-opacity="0.12" stroke-width="1"/><line x1="490.5" y1="139.5" x2="490.5" y2="432.5" stroke="#000" stroke-opacity="0.12" stroke-width="1"/><line x1="505.5" y1="139.5" x2="505.5" y2="432.5" stroke="#000" stroke-opacity="0.12" stroke-width="1"/><line x1="520.5" y1="139.5" x2="520.5" y2="432.5" stroke="#000" stroke-opacity="0.2" stroke-width="1"/><line x1="535.5" y1="139.5" x2="535.5" y2="432.5" stroke="#000" stroke-opacity="0.12" stroke-width="1"/><line x1="550.5" y1="139.5" x2="550.5" y2="432.5" stroke="#000" stroke-opacity="0.12" stroke-width="1"/><line x1="565.5" y1="139.5" x2="565.5" y2="432.5" stroke="#000" stroke-opacity="0.12" stroke-width="1"/><line x1="580.5" y1="139.5" x2="580.5" y2="432.5" stroke="#000" stroke-opacity="0.2" stroke-width="1"/><line x1="595.5" y1="139.5" x2="595.5" y2="432.5" stroke="#000" stroke-opacity="0.12" stroke-width="1"/><line x1="610.5" y1="139.5" x2="610.5" y2="432.5" stroke="#000" stroke-opacity="0.12" stroke-width="1"/>
<line x1="16.5" y1="404.5" x2="627.5" y2="404.5" stroke="#000" stroke-opacity="0.12" stroke-width="1"/>
<line x1="16.5" y1="379.5" x2="627.5" y2="379.5" stroke="#000" stroke-opacity="0.12" stroke-width="1"/>
<line x1="16.5" y1="355.5" x2="627.5" y2="355.5" stroke="#000" stroke-opacity="0.12" stroke-width="1"/>
<line x1="16.5" y1="335.5" x2="627.5" y2="335.5" stroke="#000" stroke-opacity="0.12" stroke-width="1"/>
<line x1="16.5" y1="316.5" x2="627.5" y2="316.5" stroke="#000" stroke-opacity="0.12" stroke-width="1"/>
<line x1="16.5" y1="298.5" x2="627.5" y2="298.5" stroke="#000" stroke-opacity="0.12" stroke-width="1"/>
<line x1="16.5" y1="282.5" x2="627.5" y2="282.5" stroke="#000" stroke-opacity="0.12" stroke-width="1"/>
<line x1="16.5" y1="267.5" x2="627.5" y2="267.5" stroke="#000" stroke-opacity="0.12" stroke-width="1"/>
<line x1="16.5" y1="253.5" x2="627.5" y2="253.5" stroke="#000" stroke-opacity="0.12" stroke-width="1"/>
<line x1="16.5" y1="240.5" x2="627.5" y2="240.5" stroke="#000" stroke-opacity="0.12" stroke-width="1"/>
<line x1="16.5" y1="228.5" x2="627.5" y2="228.5" stroke="#000" stroke-opacity="0.12" stroke-width="1"/>
<line x1="16.5" y1="216.5" x2="627.5" y2="216.5" stroke="#000" stroke-opacity="0.12" stroke-width="1"/>
<line x1="16.5" y1="205.5" x2="627.5" y2="205.5" stroke="#000" stroke-opacity="0.12" stroke-width="1"/>
<line x1="16.5" y1="194.5" x2="627.5" y2="194.5" stroke="#000" stroke-opacity="0.12" stroke-width="1"/>
<line x1="16.5" y1="184.5" x2="627.5" y2="184.5" stroke="#000" stroke-opacity="0.12" stroke-width="1"/>
<line x1="16.5" y1="174.5" x2="627.5" y2="174.5" stroke="#000" stroke-opacity="0.12" stroke-width="1"/>
<line x1="16.5" y1="165.5" x2="627.5" y2="165.5" stroke="#000" stroke-opacity="0.12" stroke-width="1"/>
<line x1="16.5" y1="156.5" x2="627.5" y2="156.5" stroke="#000" stroke-opacity="0.12" stroke-width="1"/>
<line x1="16.5" y1="148.5" x2="627.5" y2="148.5" stroke="#000" stroke-opacity="0.12" stroke-width="1"/>
<polyline clip-path="url(#cp)" points="10.5,380.59 15.5,376.00 20.5,375.15 25.5,371.51 30.5,371.15 35.5,370.75 40.5,367.96 45.5,367.71 50.5,366.71 55.5,367.50 60.5,367.93 65.5,366.88 70.5,365.99 75.5,366.76 80.5,366.86 85.5,367.69 90.5,365.73 95.5,364.72 100.5,364.23 105.5,362.03 110.5,360.64 115.5,359.45 120.5,358.23 125.5,357.51 130.5,355.72 135.5,354.17 140.5,352.41 145.5,350.61 150.5,347.49 155.5,344.77 160.5,338.51 165.5,331.40 170.5,327.69 175.5,325.54 180.5,323.57 185.5,322.78 190.5,320.27 195.5,318.07 200.5,316.96 205.5,311.75 210.5,310.04 215.5,304.57 220.5,302.32 225.5,302.50 230.5,302.21 235.5,301.69 240.5,300.67 245.5,297.90 250.5,298.16 255.5,296.62 260.5,296.14 265.5,294.06 270.5,293.07 275.5,290.43 280.5,289.16 285.5,281.82 290.5,270.26 295.5,266.04 300.5,265.10 305.5,264.55 310.5,264.62 315.5,262.35 320.5,258.77 325.5,257.12 330.5,252.83 335.5,252.15 340.5,250.63 345.5,248.31 350.5,245.04 355.5,241.06 360.5,238.66 365.5,236.71 370.5,233.61 375.5,230.64 380.5,227.96 385.5,222.94 390.5,220.70 395.5,216.02 400.5,209.17 405.5,205.26 410.5,201.17 415.5,199.27 420.5,197.22 425.5,196.23 430.5,195.50 435.5,196.14 440.5,196.13 445.5,196.51 450.5,196.43 455.5,197.89 460.5,198.72 465.5,200.51 470.5,200.93 475.5,203.39 480.5,204.78 485.5,203.54 490.5,202.71 495.5,201.88 500.5,201.39 505.5,201.50 510.5,198.76 515.5,197.36 520.5,195.76 525.5,193.13 530.5,190.87 535.5,188.44 540.5,185.11 545.5,182.15 550.5,179.20 555.5,173.23 560.5,169.42 565.5,167.99 570.5,163.92 575.5,161.76 580.5,158.37 585.5,156.10 590.5,153.44 595.5,147.36 600.5,145.50 605.5,143.36 610.5,142.14 615.5,140.12 620.5,139.42" fill="none" stroke="#267a26" stroke-width="1.1"/>
<polyline clip-path="url(#cp)" points="10.5,439.59 15.5,445.65 20.5,448.02 25.5,450.23 30.5,448.06 35.5,447.12 40.5,452.43 45.5,454.18 50.5,453.59 55.5,450.43 60.5,447.23 65.5,446.38 70.5,443.67 75.5,439.10 80.5,435.93 85.5,433.10 90.5,432.51 95.5,430.02 100.5,426.33 105.5,423.43 110.5,420.11 115.5,416.59 120.5,413.05 125.5,409.18 130.5,406.18 135.5,403.40 140.5,400.41 145.5,396.88 150.5,394.18 155.5,391.16 160.5,390.37 165.5,393.90 170.5,395.11 175.5,394.49 180.5,392.86 185.5,389.79 190.5,387.61 195.5,383.99 200.5,379.39 205.5,384.75 210.5,384.64 215.5,395.21 220.5,397.11 225.5,393.84 230.5,390.65 235.5,386.05 240.5,386.44 245.5,385.93 250.5,380.69 255.5,379.60 260.5,376.39 265.5,374.80 270.5,370.28 275.5,367.15 280.5,362.94 285.5,372.88 290.5,398.27 295.5,405.46 300.5,403.94 305.5,400.89 310.5,393.72 315.5,387.18 320.5,386.74 325.5,385.33 330.5,382.54 335.5,372.01 340.5,365.17 345.5,359.10 350.5,353.06 355.5,346.15 360.5,337.93 365.5,329.07 370.5,321.98 375.5,314.31 380.5,310.51 385.5,307.03 390.5,301.19 395.5,297.37 400.5,301.19 405.5,303.22 410.5,304.01 415.5,307.11 420.5,310.54 425.5,317.00 430.5,317.85 435.5,318.80 440.5,325.97 445.5,327.73 450.5,327.08 455.5,327.20 460.5,324.78 465.5,322.30 470.5,320.22 475.5,314.01 480.5,309.80 485.5,306.48 490.5,301.27 495.5,297.82 500.5,297.10 505.5,296.79 510.5,296.22 515.5,291.56 520.5,287.01 525.5,281.81 530.5,275.27 535.5,272.55 540.5,269.13 545.5,264.06 550.5,259.37 555.5,258.75 560.5,254.80 565.5,249.00 570.5,244.66 575.5,240.16 580.5,236.73 585.5,233.40 590.5,234.55 595.5,241.59 600.5,239.25 605.5,235.06 610.5,229.05 615.5,224.00 620.5,217.74" fill="none" stroke="#267a26" stroke-width="1.1"/>
<polyline clip-path="url(#cp)" points="10.5,389.38 15.5,386.17 20.5,385.73 25.5,382.81 30.5,382.22 35.5,381.76 40.5,379.95 45.5,379.94 50.5,378.99 55.5,379.31 60.5,379.30 65.5,378.27 70.5,377.16 75.5,377.27 80.5,376.95 85.5,377.31 90.5,375.53 95.5,374.34 100.5,373.42 105.5,371.14 110.5,369.49 115.5,367.99 120.5,366.46 125.5,365.31 130.5,363.36 135.5,361.64 140.5,359.71 145.5,357.67 150.5,354.61 155.5,351.85 160.5,346.34 165.5,340.65 170.5,337.58 175.5,335.62 180.5,333.69 185.5,332.61 190.5,330.15 195.5,327.76 200.5,326.20 205.5,322.34 210.5,320.82 215.5,317.29 220.5,315.52 225.5,315.30 230.5,314.67 235.5,313.67 240.5,312.81 245.5,310.31 250.5,309.92 255.5,308.43 260.5,307.62 265.5,305.60 270.5,304.18 275.5,301.49 280.5,299.84 285.5,294.59 290.5,287.01 295.5,283.91 300.5,282.92 305.5,282.13 310.5,281.49 315.5,278.78 320.5,275.52 325.5,273.89 330.5,269.75 335.5,268.08 340.5,266.00 345.5,263.28 350.5,259.72 355.5,255.42 360.5,252.37 365.5,249.63 370.5,246.06 375.5,242.54 380.5,239.72 385.5,234.89 390.5,232.21 395.5,227.64 400.5,222.05 405.5,218.82 410.5,215.27 415.5,213.92 420.5,212.46 425.5,212.25 430.5,211.69 435.5,212.36 440.5,213.07 445.5,213.59 450.5,213.45 455.5,214.78 460.5,215.28 465.5,216.64 470.5,216.80 475.5,218.35 480.5,219.13 485.5,217.66 490.5,216.34 495.5,215.21 500.5,214.70 505.5,214.76 510.5,212.26 515.5,210.49 520.5,208.55 525.5,205.62 530.5,202.85 535.5,200.39 540.5,197.04 545.5,193.84 550.5,190.67 555.5,185.34 560.5,181.52 565.5,179.57 570.5,175.46 575.5,173.02 580.5,169.62 585.5,167.22 590.5,165.03 595.5,160.50 600.5,158.58 605.5,156.20 610.5,154.42 615.5,152.04 620.5,150.67" fill="none" stroke="#d8143a" stroke-width="1.1"/>
<polyline clip-path="url(#cp)" points="10.5,428.58 15.5,432.38 20.5,434.06 25.5,434.97 30.5,433.20 35.5,432.38 40.5,435.87 45.5,437.16 50.5,436.48 55.5,434.22 60.5,431.84 65.5,430.94 70.5,428.64 75.5,425.24 80.5,422.79 85.5,420.74 90.5,419.86 95.5,417.69 100.5,414.67 105.5,411.92 110.5,409.00 115.5,405.96 120.5,402.90 125.5,399.67 130.5,396.91 135.5,394.38 140.5,391.63 145.5,388.46 150.5,385.67 155.5,382.71 160.5,380.82 165.5,382.16 170.5,382.32 175.5,381.37 180.5,379.67 185.5,377.09 190.5,374.84 195.5,371.52 200.5,367.66 205.5,370.75 210.5,370.29 215.5,377.23 220.5,378.16 225.5,375.70 230.5,373.18 235.5,369.52 240.5,369.58 245.5,368.56 250.5,364.57 255.5,363.39 260.5,360.79 265.5,359.09 270.5,355.35 275.5,352.34 280.5,348.77 285.5,354.81 290.5,371.00 295.5,375.11 300.5,373.76 305.5,371.39 310.5,366.17 315.5,360.75 320.5,359.48 325.5,358.01 330.5,354.82 335.5,346.87 340.5,341.39 345.5,336.26 350.5,330.91 355.5,324.73 360.5,317.91 365.5,310.69 370.5,304.53 375.5,297.93 380.5,294.39 385.5,290.56 390.5,285.53 395.5,281.52 400.5,282.89 405.5,283.52 410.5,283.13 415.5,285.01 420.5,287.07 425.5,291.63 430.5,292.07 435.5,292.94 440.5,298.22 445.5,299.61 450.5,299.11 455.5,299.59 460.5,298.03 465.5,296.67 470.5,295.23 475.5,291.22 480.5,288.39 485.5,285.58 490.5,281.43 495.5,278.60 500.5,277.93 505.5,277.72 510.5,276.64 515.5,272.75 520.5,268.89 525.5,264.29 530.5,258.73 535.5,256.08 540.5,252.68 545.5,248.08 550.5,243.78 555.5,241.95 560.5,238.04 565.5,233.23 570.5,228.95 575.5,224.97 580.5,221.55 585.5,218.46 590.5,218.76 595.5,222.77 600.5,220.54 605.5,216.84 610.5,211.93 615.5,207.58 620.5,202.57" fill="none" stroke="#d8143a" stroke-width="1.1"/>
<polyline clip-path="url(#cp)" points="10.5,398.54 15.5,396.83 20.5,396.84 25.5,394.72 30.5,393.89 35.5,393.35 40.5,392.64 45.5,392.89 50.5,392.00 55.5,391.79 60.5,391.29 65.5,390.29 70.5,388.93 75.5,388.31 80.5,387.54 85.5,387.39 90.5,385.80 95.5,384.39 100.5,383.02 105.5,380.64 110.5,378.71 115.5,376.88 120.5,375.01 125.5,373.40 130.5,371.27 135.5,369.38 140.5,367.26 145.5,364.97 150.5,361.97 155.5,359.16 160.5,354.46 165.5,350.31 170.5,347.93 175.5,346.19 180.5,344.30 185.5,342.91 190.5,340.49 195.5,337.91 200.5,335.85 205.5,333.47 210.5,332.18 215.5,330.80 220.5,329.57 225.5,328.91 230.5,327.89 235.5,326.34 240.5,325.68 245.5,323.48 250.5,322.35 255.5,320.93 260.5,319.75 265.5,317.79 270.5,315.89 275.5,313.13 280.5,311.08 285.5,308.15 290.5,305.17 295.5,303.38 300.5,302.32 305.5,301.25 310.5,299.77 315.5,296.56 320.5,293.67 325.5,292.07 330.5,288.11 335.5,285.27 340.5,282.54 345.5,279.36 350.5,275.45 355.5,270.79 360.5,267.00 365.5,263.36 370.5,259.27 375.5,255.12 380.5,252.15 385.5,247.53 390.5,244.37 395.5,239.91 400.5,235.74 405.5,233.28 410.5,230.36 415.5,229.64 420.5,228.86 425.5,229.55 430.5,229.17 435.5,229.88 440.5,231.44 445.5,232.12 450.5,231.91 455.5,233.08 460.5,233.21 465.5,234.06 470.5,233.92 475.5,234.41 480.5,234.49 485.5,232.75 490.5,230.88 495.5,229.41 500.5,228.87 505.5,228.88 510.5,226.66 515.5,224.46 520.5,222.14 525.5,218.87 530.5,215.53 535.5,213.03 540.5,209.68 545.5,206.18 550.5,202.78 555.5,198.17 560.5,194.33 565.5,191.80 570.5,187.65 575.5,184.89 580.5,181.49 585.5,178.94 590.5,177.27 595.5,174.48 600.5,172.49 605.5,169.85 610.5,167.43 615.5,164.65 620.5,162.53" fill="none" stroke="#ff00ff" stroke-width="1.1"/>
<polyline clip-path="url(#cp)" points="10.5,418.10 15.5,419.87 20.5,420.93 25.5,420.71 30.5,419.29 35.5,418.58 40.5,420.49 45.5,421.39 50.5,420.63 55.5,419.14 60.5,417.47 65.5,416.53 70.5,414.58 75.5,412.22 80.5,410.39 85.5,409.04 90.5,407.90 95.5,406.01 100.5,403.60 105.5,400.98 110.5,398.43 115.5,395.83 120.5,393.20 125.5,390.55 130.5,388.03 135.5,385.72 140.5,383.20 145.5,380.34 150.5,377.48 155.5,374.58 160.5,371.67 165.5,371.01 170.5,370.24 175.5,369.00 180.5,367.23 185.5,365.09 190.5,362.78 195.5,359.73 200.5,356.53 205.5,357.60 210.5,356.83 215.5,360.63 220.5,360.73 225.5,358.96 230.5,357.02 235.5,354.16 240.5,353.94 245.5,352.47 250.5,349.57 255.5,348.29 260.5,346.23 265.5,344.44 270.5,341.39 275.5,338.47 280.5,335.47 285.5,338.12 290.5,346.77 295.5,348.49 300.5,347.25 305.5,345.41 310.5,341.71 315.5,337.19 320.5,335.27 325.5,333.74 330.5,330.24 335.5,324.34 340.5,319.96 345.5,315.60 350.5,310.81 355.5,305.22 360.5,299.58 365.5,293.74 370.5,288.38 375.5,282.71 380.5,279.38 385.5,275.25 390.5,270.93 395.5,266.75 400.5,266.01 405.5,265.45 410.5,264.08 415.5,264.94 420.5,265.89 425.5,268.91 430.5,269.03 435.5,269.83 440.5,273.61 445.5,274.71 450.5,274.34 455.5,275.09 460.5,274.21 465.5,273.74 470.5,272.82 475.5,270.59 480.5,268.90 485.5,266.51 490.5,263.24 495.5,260.94 500.5,260.32 505.5,260.19 510.5,258.67 515.5,255.43 520.5,252.17 525.5,248.07 530.5,243.36 535.5,240.76 540.5,237.38 545.5,233.20 550.5,229.24 555.5,226.36 560.5,222.47 565.5,218.52 570.5,214.29 575.5,210.77 580.5,207.36 585.5,204.47 590.5,204.03 595.5,205.46 600.5,203.32 605.5,200.02 610.5,196.07 615.5,192.31 620.5,188.39" fill="none" stroke="#ff00ff" stroke-width="1.1"/>
<polyline clip-path="url(#cp)" points="10.5,408.10 15.5,408.05 20.5,408.55 25.5,407.33 30.5,406.22 35.5,405.60 40.5,406.12 45.5,406.67 50.5,405.84 55.5,405.04 60.5,403.99 65.5,403.02 70.5,401.38 75.5,399.94 80.5,398.67 85.5,397.94 90.5,396.57 95.5,394.93 100.5,393.07 105.5,390.57 110.5,388.35 115.5,386.15 120.5,383.92 125.5,381.81 130.5,379.49 135.5,377.40 140.5,375.09 145.5,372.52 150.5,369.58 155.5,366.73 160.5,362.90 165.5,360.41 170.5,358.80 175.5,357.29 180.5,355.46 185.5,353.72 190.5,351.35 195.5,348.55 200.5,345.94 205.5,345.20 210.5,344.15 215.5,345.20 220.5,344.59 225.5,343.41 230.5,341.97 235.5,339.81 240.5,339.35 245.5,337.49 250.5,335.53 255.5,334.18 260.5,332.59 265.5,330.71 270.5,328.26 275.5,325.43 280.5,322.93 285.5,322.62 290.5,324.98 295.5,324.77 300.5,323.63 305.5,322.21 310.5,319.73 315.5,315.93 320.5,313.48 325.5,311.91 330.5,308.15 335.5,303.93 340.5,300.44 345.5,296.73 350.5,292.42 355.5,287.32 360.5,282.68 365.5,278.02 370.5,273.34 375.5,268.48 380.5,265.34 385.5,260.95 390.5,257.24 395.5,252.92 400.5,250.35 405.5,248.77 410.5,246.56 415.5,246.58 420.5,246.58 425.5,248.34 430.5,248.19 435.5,248.94 440.5,251.51 445.5,252.37 450.5,252.09 455.5,253.08 460.5,252.74 465.5,252.99 470.5,252.50 475.5,251.75 480.5,251.01 485.5,248.98 490.5,246.46 495.5,244.60 500.5,244.03 505.5,243.97 510.5,242.08 515.5,239.40 520.5,236.64 525.5,232.98 530.5,229.00 535.5,226.46 540.5,223.09 545.5,219.27 550.5,215.61 555.5,211.81 560.5,207.95 565.5,204.75 570.5,200.56 575.5,197.45 580.5,194.04 585.5,191.33 590.5,190.24 595.5,189.42 600.5,187.36 605.5,184.41 610.5,181.28 615.5,178.04 620.5,175.08" fill="none" stroke="#10108a" stroke-width="1.35"/>
<polyline clip-path="url(#cp)" points="10.5,408.10 15.5,408.05 20.5,408.55 25.5,407.33 30.5,406.22 35.5,405.60 40.5,406.12 45.5,406.67 50.5,405.84 55.5,405.04 60.5,403.99 65.5,403.02 70.5,401.38 75.5,399.94 80.5,398.67 85.5,397.94 90.5,396.57 95.5,394.93 100.5,393.07 105.5,390.57 110.5,388.35 115.5,386.15 120.5,383.92 125.5,381.81 130.5,379.49 135.5,377.40 140.5,375.09 145.5,372.52 150.5,369.58 155.5,366.73 160.5,362.90 165.5,360.41 170.5,358.80 175.5,357.29 180.5,355.46 185.5,353.72 190.5,351.35 195.5,348.55 200.5,345.94 205.5,345.20 210.5,344.15 215.5,345.20 220.5,344.59 225.5,343.41 230.5,341.97 235.5,339.81 240.5,339.35 245.5,337.49 250.5,335.53 255.5,334.18 260.5,332.59 265.5,330.71 270.5,328.26 275.5,325.43 280.5,322.93 285.5,322.62 290.5,324.98 295.5,324.77 300.5,323.63 305.5,322.21 310.5,319.73 315.5,315.93 320.5,313.48 325.5,311.91 330.5,308.15 335.5,303.93 340.5,300.44 345.5,296.73 350.5,292.42 355.5,287.32 360.5,282.68 365.5,278.02 370.5,273.34 375.5,268.48 380.5,265.34 385.5,260.95 390.5,257.24 395.5,252.92 400.5,250.35 405.5,248.77 410.5,246.56 415.5,246.58 420.5,246.58 425.5,248.34 430.5,248.19 435.5,248.94 440.5,251.51 445.5,252.37 450.5,252.09 455.5,253.08 460.5,252.74 465.5,252.99 470.5,252.50 475.5,251.75 480.5,251.01 485.5,248.98 490.5,246.46 495.5,244.60 500.5,244.03 505.5,243.97 510.5,242.08 515.5,239.40 520.5,236.64 525.5,232.98 530.5,229.00 535.5,226.46 540.5,223.09 545.5,219.27 550.5,215.61 555.5,211.81 560.5,207.95 565.5,204.75 570.5,200.56 575.5,197.45 580.5,194.04 585.5,191.33 590.5,190.24 595.5,189.42 600.5,187.36 605.5,184.41 610.5,181.28 615.5,178.04 620.5,175.08" fill="none" stroke="#f02890" stroke-width="1.35" stroke-dasharray="2 2"/>
<g clip-path="url(#cp)" fill="none" stroke="#9a35f0" stroke-width="1"><rect x="14.5" y="389.5" width="2" height="2"/><rect x="19.5" y="389.5" width="2" height="2"/><rect x="24.5" y="390.5" width="2" height="2"/><rect x="29.5" y="390.5" width="2" height="2"/><rect x="34.5" y="391.5" width="2" height="2"/><rect x="39.5" y="391.5" width="2" height="2"/><rect x="44.5" y="392.5" width="2" height="2"/><rect x="49.5" y="394.5" width="2" height="2"/><rect x="54.5" y="425.5" width="2" height="2"/><rect x="59.5" y="424.5" width="2" height="2"/><rect x="64.5" y="423.5" width="2" height="2"/><rect x="69.5" y="422.5" width="2" height="2"/><rect x="74.5" y="419.5" width="2" height="2"/><rect x="79.5" y="416.5" width="2" height="2"/><rect x="84.5" y="413.5" width="2" height="2"/><rect x="89.5" y="411.5" width="2" height="2"/><rect x="94.5" y="408.5" width="2" height="2"/><rect x="99.5" y="403.5" width="2" height="2"/><rect x="104.5" y="399.5" width="2" height="2"/><rect x="109.5" y="393.5" width="2" height="2"/><rect x="114.5" y="388.5" width="2" height="2"/><rect x="119.5" y="383.5" width="2" height="2"/><rect x="124.5" y="379.5" width="2" height="2"/><rect x="129.5" y="374.5" width="2" height="2"/><rect x="134.5" y="371.5" width="2" height="2"/><rect x="139.5" y="367.5" width="2" height="2"/><rect x="144.5" y="364.5" width="2" height="2"/><rect x="149.5" y="361.5" width="2" height="2"/><rect x="154.5" y="357.5" width="2" height="2"/><rect x="159.5" y="353.5" width="2" height="2"/><rect x="164.5" y="324.5" width="2" height="2"/><rect x="169.5" y="324.5" width="2" height="2"/><rect x="174.5" y="325.5" width="2" height="2"/><rect x="179.5" y="325.5" width="2" height="2"/><rect x="184.5" y="326.5" width="2" height="2"/><rect x="189.5" y="352.5" width="2" height="2"/><rect x="194.5" y="351.5" width="2" height="2"/><rect x="199.5" y="350.5" width="2" height="2"/><rect x="204.5" y="348.5" width="2" height="2"/><rect x="209.5" y="346.5" width="2" height="2"/><rect x="214.5" y="319.5" width="2" height="2"/><rect x="219.5" y="320.5" width="2" height="2"/><rect x="224.5" y="321.5" width="2" height="2"/><rect x="229.5" y="322.5" width="2" height="2"/><rect x="234.5" y="368.5" width="2" height="2"/><rect x="239.5" y="367.5" width="2" height="2"/><rect x="244.5" y="365.5" width="2" height="2"/><rect x="249.5" y="362.5" width="2" height="2"/><rect x="254.5" y="357.5" width="2" height="2"/><rect x="259.5" y="354.5" width="2" height="2"/><rect x="264.5" y="350.5" width="2" height="2"/><rect x="269.5" y="346.5" width="2" height="2"/><rect x="274.5" y="340.5" width="2" height="2"/><rect x="279.5" y="334.5" width="2" height="2"/><rect x="284.5" y="326.5" width="2" height="2"/><rect x="289.5" y="288.5" width="2" height="2"/><rect x="294.5" y="288.5" width="2" height="2"/><rect x="299.5" y="290.5" width="2" height="2"/><rect x="304.5" y="291.5" width="2" height="2"/><rect x="309.5" y="293.5" width="2" height="2"/><rect x="314.5" y="383.5" width="2" height="2"/><rect x="319.5" y="380.5" width="2" height="2"/><rect x="324.5" y="375.5" width="2" height="2"/><rect x="329.5" y="370.5" width="2" height="2"/><rect x="334.5" y="363.5" width="2" height="2"/><rect x="339.5" y="353.5" width="2" height="2"/><rect x="344.5" y="342.5" width="2" height="2"/><rect x="349.5" y="329.5" width="2" height="2"/><rect x="354.5" y="317.5" width="2" height="2"/><rect x="359.5" y="303.5" width="2" height="2"/><rect x="364.5" y="290.5" width="2" height="2"/><rect x="369.5" y="278.5" width="2" height="2"/><rect x="374.5" y="268.5" width="2" height="2"/><rect x="379.5" y="258.5" width="2" height="2"/><rect x="384.5" y="251.5" width="2" height="2"/><rect x="389.5" y="245.5" width="2" height="2"/><rect x="394.5" y="239.5" width="2" height="2"/><rect x="399.5" y="212.5" width="2" height="2"/><rect x="404.5" y="212.5" width="2" height="2"/><rect x="409.5" y="212.5" width="2" height="2"/><rect x="414.5" y="213.5" width="2" height="2"/><rect x="419.5" y="214.5" width="2" height="2"/><rect x="424.5" y="217.5" width="2" height="2"/><rect x="429.5" y="221.5" width="2" height="2"/><rect x="434.5" y="225.5" width="2" height="2"/><rect x="439.5" y="228.5" width="2" height="2"/><rect x="444.5" y="232.5" width="2" height="2"/><rect x="449.5" y="238.5" width="2" height="2"/><rect x="454.5" y="243.5" width="2" height="2"/><rect x="459.5" y="247.5" width="2" height="2"/><rect x="464.5" y="282.5" width="2" height="2"/><rect x="469.5" y="281.5" width="2" height="2"/><rect x="474.5" y="280.5" width="2" height="2"/><rect x="479.5" y="279.5" width="2" height="2"/><rect x="484.5" y="278.5" width="2" height="2"/><rect x="489.5" y="274.5" width="2" height="2"/><rect x="494.5" y="270.5" width="2" height="2"/><rect x="499.5" y="265.5" width="2" height="2"/><rect x="504.5" y="261.5" width="2" height="2"/><rect x="509.5" y="258.5" width="2" height="2"/><rect x="514.5" y="255.5" width="2" height="2"/><rect x="519.5" y="250.5" width="2" height="2"/><rect x="524.5" y="245.5" width="2" height="2"/><rect x="529.5" y="238.5" width="2" height="2"/><rect x="534.5" y="230.5" width="2" height="2"/><rect x="539.5" y="223.5" width="2" height="2"/><rect x="544.5" y="217.5" width="2" height="2"/><rect x="549.5" y="210.5" width="2" height="2"/><rect x="554.5" y="202.5" width="2" height="2"/><rect x="559.5" y="199.5" width="2" height="2"/><rect x="564.5" y="199.5" width="2" height="2"/><rect x="569.5" y="192.5" width="2" height="2"/><rect x="574.5" y="186.5" width="2" height="2"/><rect x="579.5" y="181.5" width="2" height="2"/><rect x="584.5" y="176.5" width="2" height="2"/><rect x="589.5" y="159.5" width="2" height="2"/><rect x="594.5" y="159.5" width="2" height="2"/><rect x="599.5" y="161.5" width="2" height="2"/><rect x="604.5" y="211.5" width="2" height="2"/><rect x="609.5" y="210.5" width="2" height="2"/><rect x="614.5" y="207.5" width="2" height="2"/><rect x="619.5" y="203.5" width="2" height="2"/></g>
<g clip-path="url(#cp)"><line x1="15.5" y1="392" x2="15.5" y2="393.5" stroke="#d6103c" stroke-width="1"/><line x1="15.5" y1="407.5" x2="15.5" y2="420" stroke="#d6103c" stroke-width="1"/><rect x="13.5" y="393.5" width="4" height="14.0" fill="#d6103c" stroke="#d6103c" stroke-width="1"/><line x1="20.5" y1="402" x2="20.5" y2="407.5" stroke="#d6103c" stroke-width="1"/><line x1="20.5" y1="413.5" x2="20.5" y2="419" stroke="#d6103c" stroke-width="1"/><rect x="18.5" y="407.5" width="4" height="6.0" fill="#d6103c" stroke="#d6103c" stroke-width="1"/><line x1="25.5" y1="394" x2="25.5" y2="396.5" stroke="#000" stroke-width="1"/><line x1="25.5" y1="413.5" x2="25.5" y2="417" stroke="#000" stroke-width="1"/><rect x="23.5" y="396.5" width="4" height="17.0" fill="none" stroke="#000" stroke-width="1"/><line x1="30.5" y1="392" x2="30.5" y2="395.5" stroke="#000" stroke-width="1"/><line x1="30.5" y1="395.5" x2="30.5" y2="403" stroke="#000" stroke-width="1"/><rect x="28.5" y="395.5" width="4" height="0.0" fill="#000" stroke="#000" stroke-width="1"/><line x1="35.5" y1="393" x2="35.5" y2="395.5" stroke="#d6103c" stroke-width="1"/><line x1="35.5" y1="399.5" x2="35.5" y2="406" stroke="#d6103c" stroke-width="1"/><rect x="33.5" y="395.5" width="4" height="4.0" fill="#d6103c" stroke="#d6103c" stroke-width="1"/><line x1="40.5" y1="400" x2="40.5" y2="400.5" stroke="#d6103c" stroke-width="1"/><line x1="40.5" y1="411.5" x2="40.5" y2="426" stroke="#d6103c" stroke-width="1"/><rect x="38.5" y="400.5" width="4" height="11.0" fill="#d6103c" stroke="#d6103c" stroke-width="1"/><line x1="45.5" y1="408" x2="45.5" y2="411.5" stroke="#d6103c" stroke-width="1"/><line x1="45.5" y1="412.5" x2="45.5" y2="427" stroke="#d6103c" stroke-width="1"/><rect x="43.5" y="411.5" width="4" height="1.0" fill="#d6103c" stroke="#d6103c" stroke-width="1"/><line x1="50.5" y1="396" x2="50.5" y2="398.5" stroke="#000" stroke-width="1"/><line x1="50.5" y1="411.5" x2="50.5" y2="413" stroke="#000" stroke-width="1"/><rect x="48.5" y="398.5" width="4" height="13.0" fill="none" stroke="#000" stroke-width="1"/><line x1="55.5" y1="392" x2="55.5" y2="397.5" stroke="#000" stroke-width="1"/><line x1="55.5" y1="398.5" x2="55.5" y2="401" stroke="#000" stroke-width="1"/><rect x="53.5" y="397.5" width="4" height="1.0" fill="none" stroke="#000" stroke-width="1"/><line x1="60.5" y1="393" x2="60.5" y2="394.5" stroke="#000" stroke-width="1"/><line x1="60.5" y1="397.5" x2="60.5" y2="402" stroke="#000" stroke-width="1"/><rect x="58.5" y="394.5" width="4" height="3.0" fill="none" stroke="#000" stroke-width="1"/><line x1="65.5" y1="391" x2="65.5" y2="394.5" stroke="#000" stroke-width="1"/><line x1="65.5" y1="394.5" x2="65.5" y2="406" stroke="#000" stroke-width="1"/><rect x="63.5" y="394.5" width="4" height="0.0" fill="none" stroke="#000" stroke-width="1"/><line x1="70.5" y1="386" x2="70.5" y2="386.5" stroke="#000" stroke-width="1"/><line x1="70.5" y1="393.5" x2="70.5" y2="397" stroke="#000" stroke-width="1"/><rect x="68.5" y="386.5" width="4" height="7.0" fill="none" stroke="#000" stroke-width="1"/><line x1="75.5" y1="384" x2="75.5" y2="386.5" stroke="#d6103c" stroke-width="1"/><line x1="75.5" y1="386.5" x2="75.5" y2="390" stroke="#d6103c" stroke-width="1"/><rect x="73.5" y="386.5" width="4" height="0.0" fill="#d6103c" stroke="#d6103c" stroke-width="1"/><line x1="80.5" y1="384" x2="80.5" y2="386.5" stroke="#d6103c" stroke-width="1"/><line x1="80.5" y1="386.5" x2="80.5" y2="392" stroke="#d6103c" stroke-width="1"/><rect x="78.5" y="386.5" width="4" height="0.0" fill="#d6103c" stroke="#d6103c" stroke-width="1"/><line x1="85.5" y1="386" x2="85.5" y2="387.5" stroke="#d6103c" stroke-width="1"/><line x1="85.5" y1="391.5" x2="85.5" y2="393" stroke="#d6103c" stroke-width="1"/><rect x="83.5" y="387.5" width="4" height="4.0" fill="#d6103c" stroke="#d6103c" stroke-width="1"/><line x1="90.5" y1="382" x2="90.5" y2="383.5" stroke="#000" stroke-width="1"/><line x1="90.5" y1="390.5" x2="90.5" y2="396" stroke="#000" stroke-width="1"/><rect x="88.5" y="383.5" width="4" height="7.0" fill="none" stroke="#000" stroke-width="1"/><line x1="95.5" y1="376" x2="95.5" y2="379.5" stroke="#000" stroke-width="1"/><line x1="95.5" y1="383.5" x2="95.5" y2="386" stroke="#000" stroke-width="1"/><rect x="93.5" y="379.5" width="4" height="4.0" fill="none" stroke="#000" stroke-width="1"/><line x1="100.5" y1="374" x2="100.5" y2="376.5" stroke="#000" stroke-width="1"/><line x1="100.5" y1="378.5" x2="100.5" y2="380" stroke="#000" stroke-width="1"/><rect x="98.5" y="376.5" width="4" height="2.0" fill="none" stroke="#000" stroke-width="1"/><line x1="105.5" y1="367" x2="105.5" y2="368.5" stroke="#000" stroke-width="1"/><line x1="105.5" y1="375.5" x2="105.5" y2="377" stroke="#000" stroke-width="1"/><rect x="103.5" y="368.5" width="4" height="7.0" fill="none" stroke="#000" stroke-width="1"/><line x1="110.5" y1="364" x2="110.5" y2="366.5" stroke="#d6103c" stroke-width="1"/><line x1="110.5" y1="368.5" x2="110.5" y2="373" stroke="#d6103c" stroke-width="1"/><rect x="108.5" y="366.5" width="4" height="2.0" fill="#d6103c" stroke="#d6103c" stroke-width="1"/><line x1="115.5" y1="365" x2="115.5" y2="366.5" stroke="#000" stroke-width="1"/><line x1="115.5" y1="368.5" x2="115.5" y2="372" stroke="#000" stroke-width="1"/><rect x="113.5" y="366.5" width="4" height="2.0" fill="none" stroke="#000" stroke-width="1"/><line x1="120.5" y1="363" x2="120.5" y2="363.5" stroke="#000" stroke-width="1"/><line x1="120.5" y1="365.5" x2="120.5" y2="370" stroke="#000" stroke-width="1"/><rect x="118.5" y="363.5" width="4" height="2.0" fill="none" stroke="#000" stroke-width="1"/><line x1="125.5" y1="360" x2="125.5" y2="362.5" stroke="#000" stroke-width="1"/><line x1="125.5" y1="363.5" x2="125.5" y2="365" stroke="#000" stroke-width="1"/><rect x="123.5" y="362.5" width="4" height="1.0" fill="none" stroke="#000" stroke-width="1"/><line x1="130.5" y1="357" x2="130.5" y2="358.5" stroke="#000" stroke-width="1"/><line x1="130.5" y1="362.5" x2="130.5" y2="365" stroke="#000" stroke-width="1"/><rect x="128.5" y="358.5" width="4" height="4.0" fill="none" stroke="#000" stroke-width="1"/><line x1="135.5" y1="356" x2="135.5" y2="357.5" stroke="#000" stroke-width="1"/><line x1="135.5" y1="358.5" x2="135.5" y2="364" stroke="#000" stroke-width="1"/><rect x="133.5" y="357.5" width="4" height="1.0" fill="#000" stroke="#000" stroke-width="1"/><line x1="140.5" y1="354" x2="140.5" y2="354.5" stroke="#000" stroke-width="1"/><line x1="140.5" y1="358.5" x2="140.5" y2="361" stroke="#000" stroke-width="1"/><rect x="138.5" y="354.5" width="4" height="4.0" fill="none" stroke="#000" stroke-width="1"/><line x1="145.5" y1="348" x2="145.5" y2="349.5" stroke="#000" stroke-width="1"/><line x1="145.5" y1="354.5" x2="145.5" y2="355" stroke="#000" stroke-width="1"/><rect x="143.5" y="349.5" width="4" height="5.0" fill="none" stroke="#000" stroke-width="1"/><line x1="150.5" y1="342" x2="150.5" y2="343.5" stroke="#000" stroke-width="1"/><line x1="150.5" y1="348.5" x2="150.5" y2="352" stroke="#000" stroke-width="1"/><rect x="148.5" y="343.5" width="4" height="5.0" fill="none" stroke="#000" stroke-width="1"/><line x1="155.5" y1="339" x2="155.5" y2="341.5" stroke="#000" stroke-width="1"/><line x1="155.5" y1="343.5" x2="155.5" y2="347" stroke="#000" stroke-width="1"/><rect x="153.5" y="341.5" width="4" height="2.0" fill="none" stroke="#000" stroke-width="1"/><line x1="160.5" y1="325" x2="160.5" y2="329.5" stroke="#000" stroke-width="1"/><line x1="160.5" y1="340.5" x2="160.5" y2="341" stroke="#000" stroke-width="1"/><rect x="158.5" y="329.5" width="4" height="11.0" fill="none" stroke="#000" stroke-width="1"/><line x1="165.5" y1="328" x2="165.5" y2="330.5" stroke="#d6103c" stroke-width="1"/><line x1="165.5" y1="338.5" x2="165.5" y2="354" stroke="#d6103c" stroke-width="1"/><rect x="163.5" y="330.5" width="4" height="8.0" fill="#d6103c" stroke="#d6103c" stroke-width="1"/><line x1="170.5" y1="331" x2="170.5" y2="338.5" stroke="#d6103c" stroke-width="1"/><line x1="170.5" y1="344.5" x2="170.5" y2="349" stroke="#d6103c" stroke-width="1"/><rect x="168.5" y="338.5" width="4" height="6.0" fill="#d6103c" stroke="#d6103c" stroke-width="1"/><line x1="175.5" y1="337" x2="175.5" y2="343.5" stroke="#000" stroke-width="1"/><line x1="175.5" y1="344.5" x2="175.5" y2="352" stroke="#000" stroke-width="1"/><rect x="173.5" y="343.5" width="4" height="1.0" fill="none" stroke="#000" stroke-width="1"/><line x1="180.5" y1="335" x2="180.5" y2="338.5" stroke="#000" stroke-width="1"/><line x1="180.5" y1="343.5" x2="180.5" y2="348" stroke="#000" stroke-width="1"/><rect x="178.5" y="338.5" width="4" height="5.0" fill="none" stroke="#000" stroke-width="1"/><line x1="185.5" y1="331" x2="185.5" y2="337.5" stroke="#000" stroke-width="1"/><line x1="185.5" y1="337.5" x2="185.5" y2="340" stroke="#000" stroke-width="1"/><rect x="183.5" y="337.5" width="4" height="0.0" fill="#000" stroke="#000" stroke-width="1"/><line x1="190.5" y1="327" x2="190.5" y2="330.5" stroke="#000" stroke-width="1"/><line x1="190.5" y1="338.5" x2="190.5" y2="340" stroke="#000" stroke-width="1"/><rect x="188.5" y="330.5" width="4" height="8.0" fill="none" stroke="#000" stroke-width="1"/><line x1="195.5" y1="322" x2="195.5" y2="323.5" stroke="#000" stroke-width="1"/><line x1="195.5" y1="329.5" x2="195.5" y2="332" stroke="#000" stroke-width="1"/><rect x="193.5" y="323.5" width="4" height="6.0" fill="none" stroke="#000" stroke-width="1"/><line x1="200.5" y1="320" x2="200.5" y2="322.5" stroke="#000" stroke-width="1"/><line x1="200.5" y1="323.5" x2="200.5" y2="327" stroke="#000" stroke-width="1"/><rect x="198.5" y="322.5" width="4" height="1.0" fill="none" stroke="#000" stroke-width="1"/><line x1="205.5" y1="320" x2="205.5" y2="321.5" stroke="#d6103c" stroke-width="1"/><line x1="205.5" y1="338.5" x2="205.5" y2="348" stroke="#d6103c" stroke-width="1"/><rect x="203.5" y="321.5" width="4" height="17.0" fill="#d6103c" stroke="#d6103c" stroke-width="1"/><line x1="210.5" y1="330" x2="210.5" y2="334.5" stroke="#000" stroke-width="1"/><line x1="210.5" y1="337.5" x2="210.5" y2="345" stroke="#000" stroke-width="1"/><rect x="208.5" y="334.5" width="4" height="3.0" fill="none" stroke="#000" stroke-width="1"/><line x1="215.5" y1="331" x2="215.5" y2="332.5" stroke="#d6103c" stroke-width="1"/><line x1="215.5" y1="355.5" x2="215.5" y2="370" stroke="#d6103c" stroke-width="1"/><rect x="213.5" y="332.5" width="4" height="23.0" fill="#d6103c" stroke="#d6103c" stroke-width="1"/><line x1="220.5" y1="338" x2="220.5" y2="338.5" stroke="#000" stroke-width="1"/><line x1="220.5" y1="357.5" x2="220.5" y2="361" stroke="#000" stroke-width="1"/><rect x="218.5" y="338.5" width="4" height="19.0" fill="none" stroke="#000" stroke-width="1"/><line x1="225.5" y1="330" x2="225.5" y2="332.5" stroke="#000" stroke-width="1"/><line x1="225.5" y1="339.5" x2="225.5" y2="341" stroke="#000" stroke-width="1"/><rect x="223.5" y="332.5" width="4" height="7.0" fill="none" stroke="#000" stroke-width="1"/><line x1="230.5" y1="326" x2="230.5" y2="328.5" stroke="#000" stroke-width="1"/><line x1="230.5" y1="331.5" x2="230.5" y2="338" stroke="#000" stroke-width="1"/><rect x="228.5" y="328.5" width="4" height="3.0" fill="none" stroke="#000" stroke-width="1"/><line x1="235.5" y1="320" x2="235.5" y2="320.5" stroke="#000" stroke-width="1"/><line x1="235.5" y1="327.5" x2="235.5" y2="328" stroke="#000" stroke-width="1"/><rect x="233.5" y="320.5" width="4" height="7.0" fill="none" stroke="#000" stroke-width="1"/><line x1="240.5" y1="319" x2="240.5" y2="319.5" stroke="#d6103c" stroke-width="1"/><line x1="240.5" y1="335.5" x2="240.5" y2="336" stroke="#d6103c" stroke-width="1"/><rect x="238.5" y="319.5" width="4" height="16.0" fill="#d6103c" stroke="#d6103c" stroke-width="1"/><line x1="245.5" y1="318" x2="245.5" y2="320.5" stroke="#000" stroke-width="1"/><line x1="245.5" y1="335.5" x2="245.5" y2="337" stroke="#000" stroke-width="1"/><rect x="243.5" y="320.5" width="4" height="15.0" fill="none" stroke="#000" stroke-width="1"/><line x1="250.5" y1="314" x2="250.5" y2="317.5" stroke="#000" stroke-width="1"/><line x1="250.5" y1="318.5" x2="250.5" y2="320" stroke="#000" stroke-width="1"/><rect x="248.5" y="317.5" width="4" height="1.0" fill="none" stroke="#000" stroke-width="1"/><line x1="255.5" y1="315" x2="255.5" y2="317.5" stroke="#d6103c" stroke-width="1"/><line x1="255.5" y1="321.5" x2="255.5" y2="330" stroke="#d6103c" stroke-width="1"/><rect x="253.5" y="317.5" width="4" height="4.0" fill="#d6103c" stroke="#d6103c" stroke-width="1"/><line x1="260.5" y1="314" x2="260.5" y2="318.5" stroke="#000" stroke-width="1"/><line x1="260.5" y1="323.5" x2="260.5" y2="325" stroke="#000" stroke-width="1"/><rect x="258.5" y="318.5" width="4" height="5.0" fill="none" stroke="#000" stroke-width="1"/><line x1="265.5" y1="312" x2="265.5" y2="313.5" stroke="#000" stroke-width="1"/><line x1="265.5" y1="317.5" x2="265.5" y2="328" stroke="#000" stroke-width="1"/><rect x="263.5" y="313.5" width="4" height="4.0" fill="none" stroke="#000" stroke-width="1"/><line x1="270.5" y1="305" x2="270.5" y2="306.5" stroke="#000" stroke-width="1"/><line x1="270.5" y1="312.5" x2="270.5" y2="313" stroke="#000" stroke-width="1"/><rect x="268.5" y="306.5" width="4" height="6.0" fill="none" stroke="#000" stroke-width="1"/><line x1="275.5" y1="299" x2="275.5" y2="300.5" stroke="#000" stroke-width="1"/><line x1="275.5" y1="306.5" x2="275.5" y2="312" stroke="#000" stroke-width="1"/><rect x="273.5" y="300.5" width="4" height="6.0" fill="none" stroke="#000" stroke-width="1"/><line x1="280.5" y1="293" x2="280.5" y2="299.5" stroke="#d6103c" stroke-width="1"/><line x1="280.5" y1="300.5" x2="280.5" y2="302" stroke="#d6103c" stroke-width="1"/><rect x="278.5" y="299.5" width="4" height="1.0" fill="#d6103c" stroke="#d6103c" stroke-width="1"/><line x1="285.5" y1="289" x2="285.5" y2="299.5" stroke="#d6103c" stroke-width="1"/><line x1="285.5" y1="319.5" x2="285.5" y2="328" stroke="#d6103c" stroke-width="1"/><rect x="283.5" y="299.5" width="4" height="20.0" fill="#d6103c" stroke="#d6103c" stroke-width="1"/><line x1="290.5" y1="306" x2="290.5" y2="318.5" stroke="#d6103c" stroke-width="1"/><line x1="290.5" y1="348.5" x2="290.5" y2="385" stroke="#d6103c" stroke-width="1"/><rect x="288.5" y="318.5" width="4" height="30.0" fill="#d6103c" stroke="#d6103c" stroke-width="1"/><line x1="295.5" y1="319" x2="295.5" y2="322.5" stroke="#000" stroke-width="1"/><line x1="295.5" y1="356.5" x2="295.5" y2="361" stroke="#000" stroke-width="1"/><rect x="293.5" y="322.5" width="4" height="34.0" fill="none" stroke="#000" stroke-width="1"/><line x1="300.5" y1="311" x2="300.5" y2="313.5" stroke="#000" stroke-width="1"/><line x1="300.5" y1="326.5" x2="300.5" y2="334" stroke="#000" stroke-width="1"/><rect x="298.5" y="313.5" width="4" height="13.0" fill="none" stroke="#000" stroke-width="1"/><line x1="305.5" y1="300" x2="305.5" y2="309.5" stroke="#000" stroke-width="1"/><line x1="305.5" y1="313.5" x2="305.5" y2="319" stroke="#000" stroke-width="1"/><rect x="303.5" y="309.5" width="4" height="4.0" fill="none" stroke="#000" stroke-width="1"/><line x1="310.5" y1="296" x2="310.5" y2="297.5" stroke="#000" stroke-width="1"/><line x1="310.5" y1="308.5" x2="310.5" y2="310" stroke="#000" stroke-width="1"/><rect x="308.5" y="297.5" width="4" height="11.0" fill="none" stroke="#000" stroke-width="1"/><line x1="315.5" y1="281" x2="315.5" y2="282.5" stroke="#000" stroke-width="1"/><line x1="315.5" y1="296.5" x2="315.5" y2="297" stroke="#000" stroke-width="1"/><rect x="313.5" y="282.5" width="4" height="14.0" fill="none" stroke="#000" stroke-width="1"/><line x1="320.5" y1="277" x2="320.5" y2="282.5" stroke="#d6103c" stroke-width="1"/><line x1="320.5" y1="291.5" x2="320.5" y2="302" stroke="#d6103c" stroke-width="1"/><rect x="318.5" y="282.5" width="4" height="9.0" fill="#d6103c" stroke="#d6103c" stroke-width="1"/><line x1="325.5" y1="279" x2="325.5" y2="289.5" stroke="#d6103c" stroke-width="1"/><line x1="325.5" y1="297.5" x2="325.5" y2="300" stroke="#d6103c" stroke-width="1"/><rect x="323.5" y="289.5" width="4" height="8.0" fill="#d6103c" stroke="#d6103c" stroke-width="1"/><line x1="330.5" y1="273" x2="330.5" y2="275.5" stroke="#000" stroke-width="1"/><line x1="330.5" y1="295.5" x2="330.5" y2="297" stroke="#000" stroke-width="1"/><rect x="328.5" y="275.5" width="4" height="20.0" fill="none" stroke="#000" stroke-width="1"/><line x1="335.5" y1="267" x2="335.5" y2="267.5" stroke="#000" stroke-width="1"/><line x1="335.5" y1="273.5" x2="335.5" y2="275" stroke="#000" stroke-width="1"/><rect x="333.5" y="267.5" width="4" height="6.0" fill="none" stroke="#000" stroke-width="1"/><line x1="340.5" y1="260" x2="340.5" y2="266.5" stroke="#d6103c" stroke-width="1"/><line x1="340.5" y1="269.5" x2="340.5" y2="273" stroke="#d6103c" stroke-width="1"/><rect x="338.5" y="266.5" width="4" height="3.0" fill="#d6103c" stroke="#d6103c" stroke-width="1"/><line x1="345.5" y1="256" x2="345.5" y2="264.5" stroke="#000" stroke-width="1"/><line x1="345.5" y1="268.5" x2="345.5" y2="270" stroke="#000" stroke-width="1"/><rect x="343.5" y="264.5" width="4" height="4.0" fill="none" stroke="#000" stroke-width="1"/><line x1="350.5" y1="254" x2="350.5" y2="255.5" stroke="#000" stroke-width="1"/><line x1="350.5" y1="262.5" x2="350.5" y2="270" stroke="#000" stroke-width="1"/><rect x="348.5" y="255.5" width="4" height="7.0" fill="none" stroke="#000" stroke-width="1"/><line x1="355.5" y1="242" x2="355.5" y2="244.5" stroke="#000" stroke-width="1"/><line x1="355.5" y1="254.5" x2="355.5" y2="257" stroke="#000" stroke-width="1"/><rect x="353.5" y="244.5" width="4" height="10.0" fill="none" stroke="#000" stroke-width="1"/><line x1="360.5" y1="241" x2="360.5" y2="242.5" stroke="#000" stroke-width="1"/><line x1="360.5" y1="243.5" x2="360.5" y2="251" stroke="#000" stroke-width="1"/><rect x="358.5" y="242.5" width="4" height="1.0" fill="none" stroke="#000" stroke-width="1"/><line x1="365.5" y1="237" x2="365.5" y2="238.5" stroke="#000" stroke-width="1"/><line x1="365.5" y1="242.5" x2="365.5" y2="245" stroke="#000" stroke-width="1"/><rect x="363.5" y="238.5" width="4" height="4.0" fill="none" stroke="#000" stroke-width="1"/><line x1="370.5" y1="231" x2="370.5" y2="233.5" stroke="#000" stroke-width="1"/><line x1="370.5" y1="237.5" x2="370.5" y2="242" stroke="#000" stroke-width="1"/><rect x="368.5" y="233.5" width="4" height="4.0" fill="none" stroke="#000" stroke-width="1"/><line x1="375.5" y1="226" x2="375.5" y2="227.5" stroke="#000" stroke-width="1"/><line x1="375.5" y1="232.5" x2="375.5" y2="235" stroke="#000" stroke-width="1"/><rect x="373.5" y="227.5" width="4" height="5.0" fill="none" stroke="#000" stroke-width="1"/><line x1="380.5" y1="225" x2="380.5" y2="226.5" stroke="#d6103c" stroke-width="1"/><line x1="380.5" y1="237.5" x2="380.5" y2="238" stroke="#d6103c" stroke-width="1"/><rect x="378.5" y="226.5" width="4" height="11.0" fill="#d6103c" stroke="#d6103c" stroke-width="1"/><line x1="385.5" y1="222" x2="385.5" y2="223.5" stroke="#000" stroke-width="1"/><line x1="385.5" y1="237.5" x2="385.5" y2="240" stroke="#000" stroke-width="1"/><rect x="383.5" y="223.5" width="4" height="14.0" fill="none" stroke="#000" stroke-width="1"/><line x1="390.5" y1="216" x2="390.5" y2="222.5" stroke="#d6103c" stroke-width="1"/><line x1="390.5" y1="224.5" x2="390.5" y2="226" stroke="#d6103c" stroke-width="1"/><rect x="388.5" y="222.5" width="4" height="2.0" fill="#d6103c" stroke="#d6103c" stroke-width="1"/><line x1="395.5" y1="213" x2="395.5" y2="215.5" stroke="#000" stroke-width="1"/><line x1="395.5" y1="223.5" x2="395.5" y2="229" stroke="#000" stroke-width="1"/><rect x="393.5" y="215.5" width="4" height="8.0" fill="none" stroke="#000" stroke-width="1"/><line x1="400.5" y1="213" x2="400.5" y2="215.5" stroke="#d6103c" stroke-width="1"/><line x1="400.5" y1="227.5" x2="400.5" y2="242" stroke="#d6103c" stroke-width="1"/><rect x="398.5" y="215.5" width="4" height="12.0" fill="#d6103c" stroke="#d6103c" stroke-width="1"/><line x1="405.5" y1="223" x2="405.5" y2="227.5" stroke="#d6103c" stroke-width="1"/><line x1="405.5" y1="234.5" x2="405.5" y2="248" stroke="#d6103c" stroke-width="1"/><rect x="403.5" y="227.5" width="4" height="7.0" fill="#d6103c" stroke="#d6103c" stroke-width="1"/><line x1="410.5" y1="221" x2="410.5" y2="226.5" stroke="#000" stroke-width="1"/><line x1="410.5" y1="234.5" x2="410.5" y2="246" stroke="#000" stroke-width="1"/><rect x="408.5" y="226.5" width="4" height="8.0" fill="none" stroke="#000" stroke-width="1"/><line x1="415.5" y1="223" x2="415.5" y2="226.5" stroke="#d6103c" stroke-width="1"/><line x1="415.5" y1="246.5" x2="415.5" y2="248" stroke="#d6103c" stroke-width="1"/><rect x="413.5" y="226.5" width="4" height="20.0" fill="#d6103c" stroke="#d6103c" stroke-width="1"/><line x1="420.5" y1="237" x2="420.5" y2="246.5" stroke="#000" stroke-width="1"/><line x1="420.5" y1="246.5" x2="420.5" y2="265" stroke="#000" stroke-width="1"/><rect x="418.5" y="246.5" width="4" height="0.0" fill="none" stroke="#000" stroke-width="1"/><line x1="425.5" y1="244" x2="425.5" y2="245.5" stroke="#d6103c" stroke-width="1"/><line x1="425.5" y1="265.5" x2="425.5" y2="275" stroke="#d6103c" stroke-width="1"/><rect x="423.5" y="245.5" width="4" height="20.0" fill="#d6103c" stroke="#d6103c" stroke-width="1"/><line x1="430.5" y1="246" x2="430.5" y2="246.5" stroke="#000" stroke-width="1"/><line x1="430.5" y1="265.5" x2="430.5" y2="270" stroke="#000" stroke-width="1"/><rect x="428.5" y="246.5" width="4" height="19.0" fill="none" stroke="#000" stroke-width="1"/><line x1="435.5" y1="236" x2="435.5" y2="247.5" stroke="#d6103c" stroke-width="1"/><line x1="435.5" y1="256.5" x2="435.5" y2="257" stroke="#d6103c" stroke-width="1"/><rect x="433.5" y="247.5" width="4" height="9.0" fill="#d6103c" stroke="#d6103c" stroke-width="1"/><line x1="440.5" y1="247" x2="440.5" y2="257.5" stroke="#d6103c" stroke-width="1"/><line x1="440.5" y1="277.5" x2="440.5" y2="278" stroke="#d6103c" stroke-width="1"/><rect x="438.5" y="257.5" width="4" height="20.0" fill="#d6103c" stroke="#d6103c" stroke-width="1"/><line x1="445.5" y1="258" x2="445.5" y2="260.5" stroke="#000" stroke-width="1"/><line x1="445.5" y1="276.5" x2="445.5" y2="284" stroke="#000" stroke-width="1"/><rect x="443.5" y="260.5" width="4" height="16.0" fill="none" stroke="#000" stroke-width="1"/><line x1="450.5" y1="249" x2="450.5" y2="249.5" stroke="#000" stroke-width="1"/><line x1="450.5" y1="259.5" x2="450.5" y2="271" stroke="#000" stroke-width="1"/><rect x="448.5" y="249.5" width="4" height="10.0" fill="none" stroke="#000" stroke-width="1"/><line x1="455.5" y1="248" x2="455.5" y2="249.5" stroke="#d6103c" stroke-width="1"/><line x1="455.5" y1="262.5" x2="455.5" y2="267" stroke="#d6103c" stroke-width="1"/><rect x="453.5" y="249.5" width="4" height="13.0" fill="#d6103c" stroke="#d6103c" stroke-width="1"/><line x1="460.5" y1="248" x2="460.5" y2="249.5" stroke="#000" stroke-width="1"/><line x1="460.5" y1="261.5" x2="460.5" y2="266" stroke="#000" stroke-width="1"/><rect x="458.5" y="249.5" width="4" height="12.0" fill="none" stroke="#000" stroke-width="1"/><line x1="465.5" y1="243" x2="465.5" y2="249.5" stroke="#d6103c" stroke-width="1"/><line x1="465.5" y1="255.5" x2="465.5" y2="257" stroke="#d6103c" stroke-width="1"/><rect x="463.5" y="249.5" width="4" height="6.0" fill="#d6103c" stroke="#d6103c" stroke-width="1"/><line x1="470.5" y1="247" x2="470.5" y2="247.5" stroke="#000" stroke-width="1"/><line x1="470.5" y1="255.5" x2="470.5" y2="265" stroke="#000" stroke-width="1"/><rect x="468.5" y="247.5" width="4" height="8.0" fill="none" stroke="#000" stroke-width="1"/><line x1="475.5" y1="244" x2="475.5" y2="244.5" stroke="#000" stroke-width="1"/><line x1="475.5" y1="247.5" x2="475.5" y2="252" stroke="#000" stroke-width="1"/><rect x="473.5" y="244.5" width="4" height="3.0" fill="none" stroke="#000" stroke-width="1"/><line x1="480.5" y1="241" x2="480.5" y2="244.5" stroke="#000" stroke-width="1"/><line x1="480.5" y1="244.5" x2="480.5" y2="252" stroke="#000" stroke-width="1"/><rect x="478.5" y="244.5" width="4" height="0.0" fill="none" stroke="#000" stroke-width="1"/><line x1="485.5" y1="230" x2="485.5" y2="230.5" stroke="#000" stroke-width="1"/><line x1="485.5" y1="244.5" x2="485.5" y2="245" stroke="#000" stroke-width="1"/><rect x="483.5" y="230.5" width="4" height="14.0" fill="none" stroke="#000" stroke-width="1"/><line x1="490.5" y1="223" x2="490.5" y2="223.5" stroke="#000" stroke-width="1"/><line x1="490.5" y1="230.5" x2="490.5" y2="234" stroke="#000" stroke-width="1"/><rect x="488.5" y="223.5" width="4" height="7.0" fill="none" stroke="#000" stroke-width="1"/><line x1="495.5" y1="224" x2="495.5" y2="224.5" stroke="#d6103c" stroke-width="1"/><line x1="495.5" y1="227.5" x2="495.5" y2="237" stroke="#d6103c" stroke-width="1"/><rect x="493.5" y="224.5" width="4" height="3.0" fill="#d6103c" stroke="#d6103c" stroke-width="1"/><line x1="500.5" y1="226" x2="500.5" y2="226.5" stroke="#d6103c" stroke-width="1"/><line x1="500.5" y1="238.5" x2="500.5" y2="242" stroke="#d6103c" stroke-width="1"/><rect x="498.5" y="226.5" width="4" height="12.0" fill="#d6103c" stroke="#d6103c" stroke-width="1"/><line x1="505.5" y1="233" x2="505.5" y2="238.5" stroke="#d6103c" stroke-width="1"/><line x1="505.5" y1="243.5" x2="505.5" y2="249" stroke="#d6103c" stroke-width="1"/><rect x="503.5" y="238.5" width="4" height="5.0" fill="#d6103c" stroke="#d6103c" stroke-width="1"/><line x1="510.5" y1="223" x2="510.5" y2="224.5" stroke="#000" stroke-width="1"/><line x1="510.5" y1="243.5" x2="510.5" y2="244" stroke="#000" stroke-width="1"/><rect x="508.5" y="224.5" width="4" height="19.0" fill="none" stroke="#000" stroke-width="1"/><line x1="515.5" y1="214" x2="515.5" y2="215.5" stroke="#000" stroke-width="1"/><line x1="515.5" y1="225.5" x2="515.5" y2="226" stroke="#000" stroke-width="1"/><rect x="513.5" y="215.5" width="4" height="10.0" fill="none" stroke="#000" stroke-width="1"/><line x1="520.5" y1="208" x2="520.5" y2="212.5" stroke="#000" stroke-width="1"/><line x1="520.5" y1="216.5" x2="520.5" y2="220" stroke="#000" stroke-width="1"/><rect x="518.5" y="212.5" width="4" height="4.0" fill="none" stroke="#000" stroke-width="1"/><line x1="525.5" y1="200" x2="525.5" y2="201.5" stroke="#000" stroke-width="1"/><line x1="525.5" y1="211.5" x2="525.5" y2="212" stroke="#000" stroke-width="1"/><rect x="523.5" y="201.5" width="4" height="10.0" fill="none" stroke="#000" stroke-width="1"/><line x1="530.5" y1="193" x2="530.5" y2="194.5" stroke="#000" stroke-width="1"/><line x1="530.5" y1="200.5" x2="530.5" y2="203" stroke="#000" stroke-width="1"/><rect x="528.5" y="194.5" width="4" height="6.0" fill="none" stroke="#000" stroke-width="1"/><line x1="535.5" y1="194" x2="535.5" y2="194.5" stroke="#d6103c" stroke-width="1"/><line x1="535.5" y1="203.5" x2="535.5" y2="208" stroke="#d6103c" stroke-width="1"/><rect x="533.5" y="194.5" width="4" height="9.0" fill="#d6103c" stroke="#d6103c" stroke-width="1"/><line x1="540.5" y1="190" x2="540.5" y2="193.5" stroke="#000" stroke-width="1"/><line x1="540.5" y1="203.5" x2="540.5" y2="205" stroke="#000" stroke-width="1"/><rect x="538.5" y="193.5" width="4" height="10.0" fill="none" stroke="#000" stroke-width="1"/><line x1="545.5" y1="184" x2="545.5" y2="186.5" stroke="#000" stroke-width="1"/><line x1="545.5" y1="192.5" x2="545.5" y2="196" stroke="#000" stroke-width="1"/><rect x="543.5" y="186.5" width="4" height="6.0" fill="none" stroke="#000" stroke-width="1"/><line x1="550.5" y1="177" x2="550.5" y2="183.5" stroke="#000" stroke-width="1"/><line x1="550.5" y1="185.5" x2="550.5" y2="189" stroke="#000" stroke-width="1"/><rect x="548.5" y="183.5" width="4" height="2.0" fill="none" stroke="#000" stroke-width="1"/><line x1="555.5" y1="178" x2="555.5" y2="178.5" stroke="#000" stroke-width="1"/><line x1="555.5" y1="182.5" x2="555.5" y2="201" stroke="#000" stroke-width="1"/><rect x="553.5" y="178.5" width="4" height="4.0" fill="none" stroke="#000" stroke-width="1"/><line x1="560.5" y1="174" x2="560.5" y2="174.5" stroke="#000" stroke-width="1"/><line x1="560.5" y1="179.5" x2="560.5" y2="189" stroke="#000" stroke-width="1"/><rect x="558.5" y="174.5" width="4" height="5.0" fill="none" stroke="#000" stroke-width="1"/><line x1="565.5" y1="169" x2="565.5" y2="174.5" stroke="#d6103c" stroke-width="1"/><line x1="565.5" y1="176.5" x2="565.5" y2="178" stroke="#d6103c" stroke-width="1"/><rect x="563.5" y="174.5" width="4" height="2.0" fill="#d6103c" stroke="#d6103c" stroke-width="1"/><line x1="570.5" y1="163" x2="570.5" y2="164.5" stroke="#000" stroke-width="1"/><line x1="570.5" y1="175.5" x2="570.5" y2="177" stroke="#000" stroke-width="1"/><rect x="568.5" y="164.5" width="4" height="11.0" fill="none" stroke="#000" stroke-width="1"/><line x1="575.5" y1="161" x2="575.5" y2="164.5" stroke="#d6103c" stroke-width="1"/><line x1="575.5" y1="169.5" x2="575.5" y2="172" stroke="#d6103c" stroke-width="1"/><rect x="573.5" y="164.5" width="4" height="5.0" fill="#d6103c" stroke="#d6103c" stroke-width="1"/><line x1="580.5" y1="160" x2="580.5" y2="164.5" stroke="#000" stroke-width="1"/><line x1="580.5" y1="169.5" x2="580.5" y2="174" stroke="#000" stroke-width="1"/><rect x="578.5" y="164.5" width="4" height="5.0" fill="none" stroke="#000" stroke-width="1"/><line x1="585.5" y1="160" x2="585.5" y2="166.5" stroke="#d6103c" stroke-width="1"/><line x1="585.5" y1="167.5" x2="585.5" y2="172" stroke="#d6103c" stroke-width="1"/><rect x="583.5" y="166.5" width="4" height="1.0" fill="#d6103c" stroke="#d6103c" stroke-width="1"/><line x1="590.5" y1="166" x2="590.5" y2="166.5" stroke="#d6103c" stroke-width="1"/><line x1="590.5" y1="180.5" x2="590.5" y2="185" stroke="#d6103c" stroke-width="1"/><rect x="588.5" y="166.5" width="4" height="14.0" fill="#d6103c" stroke="#d6103c" stroke-width="1"/><line x1="595.5" y1="176" x2="595.5" y2="180.5" stroke="#d6103c" stroke-width="1"/><line x1="595.5" y1="181.5" x2="595.5" y2="213" stroke="#d6103c" stroke-width="1"/><rect x="593.5" y="180.5" width="4" height="1.0" fill="#d6103c" stroke="#d6103c" stroke-width="1"/><line x1="600.5" y1="166" x2="600.5" y2="168.5" stroke="#000" stroke-width="1"/><line x1="600.5" y1="179.5" x2="600.5" y2="182" stroke="#000" stroke-width="1"/><rect x="598.5" y="168.5" width="4" height="11.0" fill="none" stroke="#000" stroke-width="1"/><line x1="605.5" y1="157" x2="605.5" y2="158.5" stroke="#000" stroke-width="1"/><line x1="605.5" y1="169.5" x2="605.5" y2="171" stroke="#000" stroke-width="1"/><rect x="603.5" y="158.5" width="4" height="11.0" fill="none" stroke="#000" stroke-width="1"/><line x1="610.5" y1="150" x2="610.5" y2="153.5" stroke="#000" stroke-width="1"/><line x1="610.5" y1="158.5" x2="610.5" y2="159" stroke="#000" stroke-width="1"/><rect x="608.5" y="153.5" width="4" height="5.0" fill="none" stroke="#000" stroke-width="1"/><line x1="615.5" y1="147" x2="615.5" y2="149.5" stroke="#000" stroke-width="1"/><line x1="615.5" y1="155.5" x2="615.5" y2="158" stroke="#000" stroke-width="1"/><rect x="613.5" y="149.5" width="4" height="6.0" fill="none" stroke="#000" stroke-width="1"/><line x1="620.5" y1="147" x2="620.5" y2="148.5" stroke="#000" stroke-width="1"/><line x1="620.5" y1="151.5" x2="620.5" y2="153" stroke="#000" stroke-width="1"/><rect x="618.5" y="148.5" width="4" height="3.0" fill="none" stroke="#000" stroke-width="1"/></g>
<line x1="450.5" y1="285.5" x2="619.6" y2="172.3" stroke="#0000f0" stroke-width="2.4"/>
<line x1="565.3" y1="34.4" x2="620.3" y2="44.1" stroke="#0000f0" stroke-width="2.5"/>
<rect x="16.5" y="36.5" width="611.0" height="103.0" fill="none" stroke="#a8a8a8" stroke-width="1"/>
<rect x="16.5" y="139.5" width="611.0" height="293.0" fill="none" stroke="#a8a8a8" stroke-width="1"/>
<rect x="17" y="37" width="250" height="11" fill="#fff"/>
<rect x="19" y="41.7" width="9" height="2.6" fill="#000"/>
<text x="32.0" y="46.6" font-size="9.3" font-weight="normal" fill="#000" text-anchor="start" textLength="133.0" lengthAdjust="spacingAndGlyphs" stroke="#000" stroke-width="0.15">MACD(12,24,6) 393.268</text>
<text x="166.0" y="46.6" font-size="9.3" font-weight="normal" fill="#ff0000" text-anchor="start">,</text>
<text x="174.7" y="46.6" font-size="9.3" font-weight="normal" fill="#ff0000" text-anchor="start" textLength="44.1" lengthAdjust="spacingAndGlyphs">374.113</text>
<text x="220.0" y="46.6" font-size="9.3" font-weight="normal" fill="#3366cc" text-anchor="start">,</text>
<text x="228.6" y="46.6" font-size="9.3" font-weight="normal" fill="#3366cc" text-anchor="start" textLength="37.1" lengthAdjust="spacingAndGlyphs">19.154</text>
<rect x="17" y="140.0" width="150.0" height="11" fill="#fff"/>
<rect x="17" y="151.1" width="88.6" height="11" fill="#fff"/>
<rect x="17" y="161.7" width="206.4" height="11" fill="#fff"/>
<rect x="17" y="172.6" width="206.0" height="11" fill="#fff"/>
<rect x="17" y="183.2" width="206.0" height="11" fill="#fff"/>
<rect x="17" y="193.7" width="110.9" height="11" fill="#fff"/>
<rect x="17" y="204.4" width="114.0" height="11" fill="#fff"/>
<text x="30.3" y="149.0" font-size="9.3" font-weight="normal" fill="#000" text-anchor="start" textLength="134.7" lengthAdjust="spacingAndGlyphs" stroke="#000" stroke-width="0.2">$SPX (Monthly) 6481.50</text>
<text x="29.4" y="160.1" font-size="9.3" font-weight="normal" fill="#000080" text-anchor="start" textLength="74.2" lengthAdjust="spacingAndGlyphs" stroke="#000080" stroke-width="0.2">EMA(20) 5742.65</text>
<text x="29.4" y="170.7" font-size="9.3" font-weight="normal" fill="#d0103a" text-anchor="start" textLength="192.0" lengthAdjust="spacingAndGlyphs" stroke="#d0103a" stroke-width="0.2">KELT(20,2.0,10) 5057.47 - 5742.65 - 6427.84</text>
<text x="29.4" y="181.6" font-size="9.3" font-weight="normal" fill="#0b6a0b" text-anchor="start" textLength="191.6" lengthAdjust="spacingAndGlyphs" stroke="#0b6a0b" stroke-width="0.2">KELT(20,3.0,10) 4714.88 - 5742.65 - 6770.43</text>
<text x="29.4" y="192.2" font-size="9.3" font-weight="normal" fill="#ff00ff" text-anchor="start" textLength="191.6" lengthAdjust="spacingAndGlyphs" stroke="#ff00ff" stroke-width="0.2">KELT(20,1.0,10) 5400.06 - 5742.65 - 6085.25</text>
<text x="29.4" y="202.7" font-size="9.3" font-weight="normal" fill="#9a35f0" text-anchor="start" textLength="96.5" lengthAdjust="spacingAndGlyphs" stroke="#9a35f0" stroke-width="0.2">SAR(0.02,0.2) 5020.20</text>
<text x="29.4" y="213.4" font-size="9.3" font-weight="normal" fill="#333" text-anchor="start" textLength="99.6" lengthAdjust="spacingAndGlyphs" stroke="#333" stroke-width="0.2">Volume 11,400,148,992</text>
<rect x="19" y="156.5" width="9" height="2.5" fill="#000080"/>
<rect x="19" y="167.2" width="9" height="2.5" fill="#d8143a"/>
<rect x="19" y="178" width="9" height="2.5" fill="#1a6e1a"/>
<rect x="19" y="188.6" width="9" height="2.5" fill="#ff00ff"/>
<rect x="19" y="199.5" width="3" height="3" fill="none" stroke="#9a35f0" stroke-width="1"/>
<rect x="24.5" y="197.5" width="3" height="3" fill="none" stroke="#9a35f0" stroke-width="1"/>
<path d="M19 213h9M19.5 213v-5M21.5 213v-6M23.5 213v-7M25.5 213v-4M27.5 213v-5" stroke="#555" stroke-width="1.5"/>
<path d="M20 142v8M22.5 143v6M25 142v8M27 143v6" stroke="#000" stroke-width="1.6"/><rect x="19" y="144" width="9" height="3" fill="#000"/>
<text x="634.0" y="66.3" font-size="9.3" font-weight="normal" fill="#000" text-anchor="start" textLength="17.5" lengthAdjust="spacingAndGlyphs" stroke="#000" stroke-width="0.15">300</text>
<text x="634.0" y="84.3" font-size="9.3" font-weight="normal" fill="#000" text-anchor="start" textLength="17.5" lengthAdjust="spacingAndGlyphs" stroke="#000" stroke-width="0.15">200</text>
<text x="634.0" y="101.3" font-size="9.3" font-weight="normal" fill="#000" text-anchor="start" textLength="17.5" lengthAdjust="spacingAndGlyphs" stroke="#000" stroke-width="0.15">100</text>
<text x="629.0" y="136.3" font-size="9.3" font-weight="normal" fill="#000" text-anchor="start" textLength="23.0" lengthAdjust="spacingAndGlyphs" stroke="#000" stroke-width="0.15">-100</text>
<text x="634.0" y="119.3" font-size="9.3" font-weight="normal" fill="#000" text-anchor="start" textLength="5.8" lengthAdjust="spacingAndGlyphs" stroke="#000" stroke-width="0.15">0</text>
<text x="631.2" y="407.3" font-size="9.3" font-weight="normal" fill="#000" text-anchor="start" textLength="22.5" lengthAdjust="spacingAndGlyphs" stroke="#000" stroke-width="0.15">2000</text>
<text x="631.2" y="382.3" font-size="9.3" font-weight="normal" fill="#000" text-anchor="start" textLength="22.5" lengthAdjust="spacingAndGlyphs" stroke="#000" stroke-width="0.15">2250</text>
<text x="631.2" y="358.3" font-size="9.3" font-weight="normal" fill="#000" text-anchor="start" textLength="22.5" lengthAdjust="spacingAndGlyphs" stroke="#000" stroke-width="0.15">2500</text>
<text x="631.2" y="338.3" font-size="9.3" font-weight="normal" fill="#000" text-anchor="start" textLength="22.5" lengthAdjust="spacingAndGlyphs" stroke="#000" stroke-width="0.15">2750</text>
<text x="631.2" y="319.3" font-size="9.3" font-weight="normal" fill="#000" text-anchor="start" textLength="22.5" lengthAdjust="spacingAndGlyphs" stroke="#000" stroke-width="0.15">3000</text>
<text x="631.2" y="301.3" font-size="9.3" font-weight="normal" fill="#000" text-anchor="start" textLength="22.5" lengthAdjust="spacingAndGlyphs" stroke="#000" stroke-width="0.15">3250</text>
<text x="631.2" y="285.3" font-size="9.3" font-weight="normal" fill="#000" text-anchor="start" textLength="22.5" lengthAdjust="spacingAndGlyphs" stroke="#000" stroke-width="0.15">3500</text>
<text x="631.2" y="270.3" font-size="9.3" font-weight="normal" fill="#000" text-anchor="start" textLength="22.5" lengthAdjust="spacingAndGlyphs" stroke="#000" stroke-width="0.15">3750</text>
<text x="631.2" y="256.3" font-size="9.3" font-weight="normal" fill="#000" text-anchor="start" textLength="22.5" lengthAdjust="spacingAndGlyphs" stroke="#000" stroke-width="0.15">4000</text>
<text x="631.2" y="243.3" font-size="9.3" font-weight="normal" fill="#000" text-anchor="start" textLength="22.5" lengthAdjust="spacingAndGlyphs" stroke="#000" stroke-width="0.15">4250</text>
<text x="631.2" y="231.3" font-size="9.3" font-weight="normal" fill="#000" text-anchor="start" textLength="22.5" lengthAdjust="spacingAndGlyphs" stroke="#000" stroke-width="0.15">4500</text>
<text x="631.2" y="219.3" font-size="9.3" font-weight="normal" fill="#000" text-anchor="start" textLength="22.5" lengthAdjust="spacingAndGlyphs" stroke="#000" stroke-width="0.15">4750</text>
<text x="631.2" y="208.3" font-size="9.3" font-weight="normal" fill="#000" text-anchor="start" textLength="22.5" lengthAdjust="spacingAndGlyphs" stroke="#000" stroke-width="0.15">5000</text>
<text x="631.2" y="197.3" font-size="9.3" font-weight="normal" fill="#000" text-anchor="start" textLength="22.5" lengthAdjust="spacingAndGlyphs" stroke="#000" stroke-width="0.15">5250</text>
<text x="631.2" y="187.3" font-size="9.3" font-weight="normal" fill="#000" text-anchor="start" textLength="22.5" lengthAdjust="spacingAndGlyphs" stroke="#000" stroke-width="0.15">5500</text>
<text x="631.2" y="177.3" font-size="9.3" font-weight="normal" fill="#000" text-anchor="start" textLength="22.5" lengthAdjust="spacingAndGlyphs" stroke="#000" stroke-width="0.15">5750</text>
<text x="631.2" y="168.3" font-size="9.3" font-weight="normal" fill="#000" text-anchor="start" textLength="22.5" lengthAdjust="spacingAndGlyphs" stroke="#000" stroke-width="0.15">6000</text>
<text x="631.2" y="159.3" font-size="9.3" font-weight="normal" fill="#000" text-anchor="start" textLength="22.5" lengthAdjust="spacingAndGlyphs" stroke="#000" stroke-width="0.15">6250</text>
<text x="631.2" y="151.3" font-size="9.3" font-weight="normal" fill="#000" text-anchor="start" textLength="22.5" lengthAdjust="spacingAndGlyphs" stroke="#000" stroke-width="0.15">6500</text>
<text x="631.2" y="142.3" font-size="9.3" font-weight="normal" fill="#000" text-anchor="start" textLength="22.5" lengthAdjust="spacingAndGlyphs" stroke="#000" stroke-width="0.15">6750</text>
<path d="M627 133.5h3 M627 116.5h3 M627 98.5h3 M627 81.5h3 M627 63.5h3 M627 45.5h3 M627 404.5h3 M627 399.5h2 M627 395.5h2 M627 391.5h2 M627 387.5h2 M627 383.5h2 M627 379.5h3 M627 375.5h2 M627 371.5h2 M627 367.5h2 M627 363.5h2 M627 359.5h2 M627 355.5h3 M627 351.5h2 M627 348.5h2 M627 345.5h2 M627 341.5h2 M627 338.5h2 M627 335.5h3 M627 331.5h2 M627 328.5h2 M627 325.5h2 M627 322.5h2 M627 319.5h2 M627 316.5h3 M627 313.5h2 M627 310.5h2 M627 307.5h2 M627 304.5h2 M627 301.5h2 M627 298.5h3 M627 295.5h2 M627 292.5h2 M627 290.5h2 M627 287.5h2 M627 284.5h2 M627 282.5h3 M627 279.5h2 M627 277.5h2 M627 274.5h2 M627 272.5h2 M627 269.5h2 M627 267.5h3 M627 264.5h2 M627 262.5h2 M627 260.5h2 M627 257.5h2 M627 255.5h2 M627 253.5h3 M627 250.5h2 M627 248.5h2 M627 246.5h2 M627 244.5h2 M627 242.5h2 M627 240.5h3 M627 238.5h2 M627 236.5h2 M627 234.5h2 M627 232.5h2 M627 230.5h2 M627 228.5h3 M627 226.5h2 M627 224.5h2 M627 222.5h2 M627 220.5h2 M627 218.5h2 M627 216.5h3 M627 214.5h2 M627 212.5h2 M627 210.5h2 M627 208.5h2 M627 206.5h2 M627 205.5h3 M627 203.5h2 M627 201.5h2 M627 199.5h2 M627 197.5h2 M627 195.5h2 M627 194.5h3 M627 192.5h2 M627 190.5h2 M627 189.5h2 M627 187.5h2 M627 185.5h2 M627 184.5h3 M627 182.5h2 M627 180.5h2 M627 179.5h2 M627 177.5h2 M627 175.5h2 M627 174.5h3 M627 172.5h2 M627 171.5h2 M627 169.5h2 M627 168.5h2 M627 166.5h2 M627 165.5h3 M627 163.5h2 M627 162.5h2 M627 160.5h2 M627 159.5h2 M627 157.5h2 M627 156.5h3 M627 154.5h2 M627 153.5h2 M627 152.5h2 M627 150.5h2 M627 149.5h2 M627 148.5h3" stroke="#b4b4b4" stroke-width="1"/>
<path d="M625 49.5 L629 44.5 H670.5 V54.5 H629 Z" fill="#fff" stroke="#ff0000" stroke-width="1"/><text x="629.5" y="52.8" font-size="9" font-weight="normal" fill="#000" text-anchor="start" textLength="39.5" lengthAdjust="spacingAndGlyphs" stroke="#000" stroke-width="0.15">374.113</text>
<path d="M625 46.5 L629 41.5 H670.5 V51.5 H629 Z" fill="#fff" stroke="#000" stroke-width="1"/><text x="629.5" y="49.8" font-size="9" font-weight="normal" fill="#000" text-anchor="start" textLength="39.5" lengthAdjust="spacingAndGlyphs" stroke="#000" stroke-width="0.15">393.268</text>
<path d="M625 112.5 L629 107.5 H665 V117.5 H629 Z" fill="#fff" stroke="#3366cc" stroke-width="1"/><text x="629.5" y="115.8" font-size="9" font-weight="normal" fill="#000" text-anchor="start" textLength="32.0" lengthAdjust="spacingAndGlyphs" stroke="#000" stroke-width="0.15">19.154</text>
<path d="M625 138.0 L629 133.5 H670.5 V142.5 H629 Z" fill="#fff" stroke="#1a7a1a" stroke-width="1"/><text x="629.5" y="141.8" font-size="9" font-weight="normal" fill="#000" text-anchor="start" textLength="39.5" lengthAdjust="spacingAndGlyphs" stroke="#000" stroke-width="0.15">6770.43</text>
<path d="M625 149.5 L629 144.5 H670.5 V154.5 H629 Z" fill="#fff" stroke="#d8143a" stroke-width="1"/><text x="629.5" y="152.8" font-size="9" font-weight="normal" fill="#000" text-anchor="start" textLength="39.5" lengthAdjust="spacingAndGlyphs" stroke="#000" stroke-width="0.15">6427.84</text>
<path d="M625 148.5 L629 143.5 H670.5 V153.5 H629 Z" fill="#fff" stroke="#000" stroke-width="1"/><text x="629.5" y="151.8" font-size="9.4" font-weight="bold" fill="#000" text-anchor="start" textLength="39.5" lengthAdjust="spacingAndGlyphs" stroke="#000" stroke-width="0.15">6481.50</text>
<path d="M625 161.5 L629 156.5 H670.5 V166.5 H629 Z" fill="#fff" stroke="#ff00ff" stroke-width="1"/><text x="629.5" y="164.8" font-size="9" font-weight="normal" fill="#000" text-anchor="start" textLength="39.5" lengthAdjust="spacingAndGlyphs" stroke="#000" stroke-width="0.15">6085.25</text>
<path d="M625 174.5 L629 169.5 H670.5 V179.5 H629 Z" fill="#fff" stroke="#000080" stroke-width="1"/><text x="629.5" y="177.8" font-size="9" font-weight="normal" fill="#000" text-anchor="start" textLength="39.5" lengthAdjust="spacingAndGlyphs" stroke="#000" stroke-width="0.15">5742.65</text>
<path d="M625 187.5 L629 182.5 H670.5 V192.5 H629 Z" fill="#fff" stroke="#ff00ff" stroke-width="1"/><text x="629.5" y="190.8" font-size="9" font-weight="normal" fill="#000" text-anchor="start" textLength="39.5" lengthAdjust="spacingAndGlyphs" stroke="#000" stroke-width="0.15">5400.06</text>
<path d="M625 203.5 L629 198.5 H670.5 V208.5 H629 Z" fill="#fff" stroke="#9a35f0" stroke-width="1"/><text x="629.5" y="206.8" font-size="9" font-weight="normal" fill="#000" text-anchor="start" textLength="39.5" lengthAdjust="spacingAndGlyphs" stroke="#000" stroke-width="0.15">5020.20</text>
<path d="M625 201.5 L629 196.5 H670.5 V206.5 H629 Z" fill="#fff" stroke="#d8143a" stroke-width="1"/><text x="629.5" y="204.8" font-size="9" font-weight="normal" fill="#000" text-anchor="start" textLength="39.5" lengthAdjust="spacingAndGlyphs" stroke="#000" stroke-width="0.15">5057.47</text>
<path d="M625 216.5 L629 211.5 H670.5 V221.5 H629 Z" fill="#fff" stroke="#1a7a1a" stroke-width="1"/><text x="629.5" y="219.8" font-size="9" font-weight="normal" fill="#000" text-anchor="start" textLength="39.5" lengthAdjust="spacingAndGlyphs" stroke="#000" stroke-width="0.15">4714.88</text>
<path d="M625 421.5 L629 416.5 H674 V426.5 H629 Z" fill="#fff" stroke="#000" stroke-width="1"/><text x="629.5" y="424.8" font-size="9" font-weight="normal" fill="#000" text-anchor="start" textLength="41.5" lengthAdjust="spacingAndGlyphs" stroke="#000" stroke-width="0.15">1140014</text>
<text x="0.8" y="350.0" font-size="9.3" font-weight="normal" fill="#000" text-anchor="start" textLength="12.4" lengthAdjust="spacingAndGlyphs" stroke="#000" stroke-width="0.15">0B</text>
<line x1="14" y1="346.5" x2="16" y2="346.5" stroke="#999"/>
<text x="0.8" y="370.5" font-size="9.3" font-weight="normal" fill="#000" text-anchor="start" textLength="12.4" lengthAdjust="spacingAndGlyphs" stroke="#000" stroke-width="0.15">5B</text>
<line x1="14" y1="367.5" x2="16" y2="367.5" stroke="#999"/>
<text x="0.8" y="391.4" font-size="9.3" font-weight="normal" fill="#000" text-anchor="start" textLength="12.4" lengthAdjust="spacingAndGlyphs" stroke="#000" stroke-width="0.15">0B</text>
<line x1="14" y1="388.5" x2="16" y2="388.5" stroke="#999"/>
<text x="0.8" y="412.8" font-size="9.3" font-weight="normal" fill="#000" text-anchor="start" textLength="12.4" lengthAdjust="spacingAndGlyphs" stroke="#000" stroke-width="0.15">5B</text>
<line x1="14" y1="409.5" x2="16" y2="409.5" stroke="#999"/>
<text x="39.5" y="442.5" font-size="9.3" font-weight="normal" fill="#000" text-anchor="middle" textLength="23.5" lengthAdjust="spacingAndGlyphs" stroke="#000" stroke-width="0.15">2016</text>
<text x="99.5" y="442.5" font-size="9.3" font-weight="normal" fill="#000" text-anchor="middle" textLength="23.5" lengthAdjust="spacingAndGlyphs" stroke="#000" stroke-width="0.15">2017</text>
<text x="159.5" y="442.5" font-size="9.3" font-weight="normal" fill="#000" text-anchor="middle" textLength="23.5" lengthAdjust="spacingAndGlyphs" stroke="#000" stroke-width="0.15">2018</text>
<text x="219.5" y="442.5" font-size="9.3" font-weight="normal" fill="#000" text-anchor="middle" textLength="23.5" lengthAdjust="spacingAndGlyphs" stroke="#000" stroke-width="0.15">2019</text>
<text x="279.5" y="442.5" font-size="9.3" font-weight="normal" fill="#000" text-anchor="middle" textLength="23.5" lengthAdjust="spacingAndGlyphs" stroke="#000" stroke-width="0.15">2020</text>
<text x="339.5" y="442.5" font-size="9.3" font-weight="normal" fill="#000" text-anchor="middle" textLength="23.5" lengthAdjust="spacingAndGlyphs" stroke="#000" stroke-width="0.15">2021</text>
<text x="399.5" y="442.5" font-size="9.3" font-weight="normal" fill="#000" text-anchor="middle" textLength="23.5" lengthAdjust="spacingAndGlyphs" stroke="#000" stroke-width="0.15">2022</text>
<text x="459.5" y="442.5" font-size="9.3" font-weight="normal" fill="#000" text-anchor="middle" textLength="23.5" lengthAdjust="spacingAndGlyphs" stroke="#000" stroke-width="0.15">2023</text>
<text x="519.5" y="442.5" font-size="9.3" font-weight="normal" fill="#000" text-anchor="middle" textLength="23.5" lengthAdjust="spacingAndGlyphs" stroke="#000" stroke-width="0.15">2024</text>
<text x="579.5" y="442.5" font-size="9.3" font-weight="normal" fill="#000" text-anchor="middle" textLength="23.5" lengthAdjust="spacingAndGlyphs" stroke="#000" stroke-width="0.15">2025</text>
<path d="M15.5 433v1M15.5 445v1 M20.5 433v1M20.5 445v1 M25.5 433v1M25.5 445v1 M30.5 433v1M30.5 445v1 M35.5 433v1M35.5 445v1 M40.5 433v2M40.5 444v2 M45.5 433v1M45.5 445v1 M50.5 433v1M50.5 445v1 M55.5 433v1M55.5 445v1 M60.5 433v1M60.5 445v1 M65.5 433v1M65.5 445v1 M70.5 433v1M70.5 445v1 M75.5 433v1M75.5 445v1 M80.5 433v1M80.5 445v1 M85.5 433v1M85.5 445v1 M90.5 433v1M90.5 445v1 M95.5 433v1M95.5 445v1 M100.5 433v2M100.5 444v2 M105.5 433v1M105.5 445v1 M110.5 433v1M110.5 445v1 M115.5 433v1M115.5 445v1 M120.5 433v1M120.5 445v1 M125.5 433v1M125.5 445v1 M130.5 433v1M130.5 445v1 M135.5 433v1M135.5 445v1 M140.5 433v1M140.5 445v1 M145.5 433v1M145.5 445v1 M150.5 433v1M150.5 445v1 M155.5 433v1M155.5 445v1 M160.5 433v2M160.5 444v2 M165.5 433v1M165.5 445v1 M170.5 433v1M170.5 445v1 M175.5 433v1M175.5 445v1 M180.5 433v1M180.5 445v1 M185.5 433v1M185.5 445v1 M190.5 433v1M190.5 445v1 M195.5 433v1M195.5 445v1 M200.5 433v1M200.5 445v1 M205.5 433v1M205.5 445v1 M210.5 433v1M210.5 445v1 M215.5 433v1M215.5 445v1 M220.5 433v2M220.5 444v2 M225.5 433v1M225.5 445v1 M230.5 433v1M230.5 445v1 M235.5 433v1M235.5 445v1 M240.5 433v1M240.5 445v1 M245.5 433v1M245.5 445v1 M250.5 433v1M250.5 445v1 M255.5 433v1M255.5 445v1 M260.5 433v1M260.5 445v1 M265.5 433v1M265.5 445v1 M270.5 433v1M270.5 445v1 M275.5 433v1M275.5 445v1 M280.5 433v2M280.5 444v2 M285.5 433v1M285.5 445v1 M290.5 433v1M290.5 445v1 M295.5 433v1M295.5 445v1 M300.5 433v1M300.5 445v1 M305.5 433v1M305.5 445v1 M310.5 433v1M310.5 445v1 M315.5 433v1M315.5 445v1 M320.5 433v1M320.5 445v1 M325.5 433v1M325.5 445v1 M330.5 433v1M330.5 445v1 M335.5 433v1M335.5 445v1 M340.5 433v2M340.5 444v2 M345.5 433v1M345.5 445v1 M350.5 433v1M350.5 445v1 M355.5 433v1M355.5 445v1 M360.5 433v1M360.5 445v1 M365.5 433v1M365.5 445v1 M370.5 433v1M370.5 445v1 M375.5 433v1M375.5 445v1 M380.5 433v1M380.5 445v1 M385.5 433v1M385.5 445v1 M390.5 433v1M390.5 445v1 M395.5 433v1M395.5 445v1 M400.5 433v2M400.5 444v2 M405.5 433v1M405.5 445v1 M410.5 433v1M410.5 445v1 M415.5 433v1M415.5 445v1 M420.5 433v1M420.5 445v1 M425.5 433v1M425.5 445v1 M430.5 433v1M430.5 445v1 M435.5 433v1M435.5 445v1 M440.5 433v1M440.5 445v1 M445.5 433v1M445.5 445v1 M450.5 433v1M450.5 445v1 M455.5 433v1M455.5 445v1 M460.5 433v2M460.5 444v2 M465.5 433v1M465.5 445v1 M470.5 433v1M470.5 445v1 M475.5 433v1M475.5 445v1 M480.5 433v1M480.5 445v1 M485.5 433v1M485.5 445v1 M490.5 433v1M490.5 445v1 M495.5 433v1M495.5 445v1 M500.5 433v1M500.5 445v1 M505.5 433v1M505.5 445v1 M510.5 433v1M510.5 445v1 M515.5 433v1M515.5 445v1 M520.5 433v2M520.5 444v2 M525.5 433v1M525.5 445v1 M530.5 433v1M530.5 445v1 M535.5 433v1M535.5 445v1 M540.5 433v1M540.5 445v1 M545.5 433v1M545.5 445v1 M550.5 433v1M550.5 445v1 M555.5 433v1M555.5 445v1 M560.5 433v1M560.5 445v1 M565.5 433v1M565.5 445v1 M570.5 433v1M570.5 445v1 M575.5 433v1M575.5 445v1 M580.5 433v2M580.5 444v2 M585.5 433v1M585.5 445v1 M590.5 433v1M590.5 445v1 M595.5 433v1M595.5 445v1 M600.5 433v1M600.5 445v1 M605.5 433v1M605.5 445v1 M610.5 433v1M610.5 445v1 M615.5 433v1M615.5 445v1 M620.5 433v1M620.5 445v1" stroke="#aaa" stroke-width="1"/>
</svg></body></html>
